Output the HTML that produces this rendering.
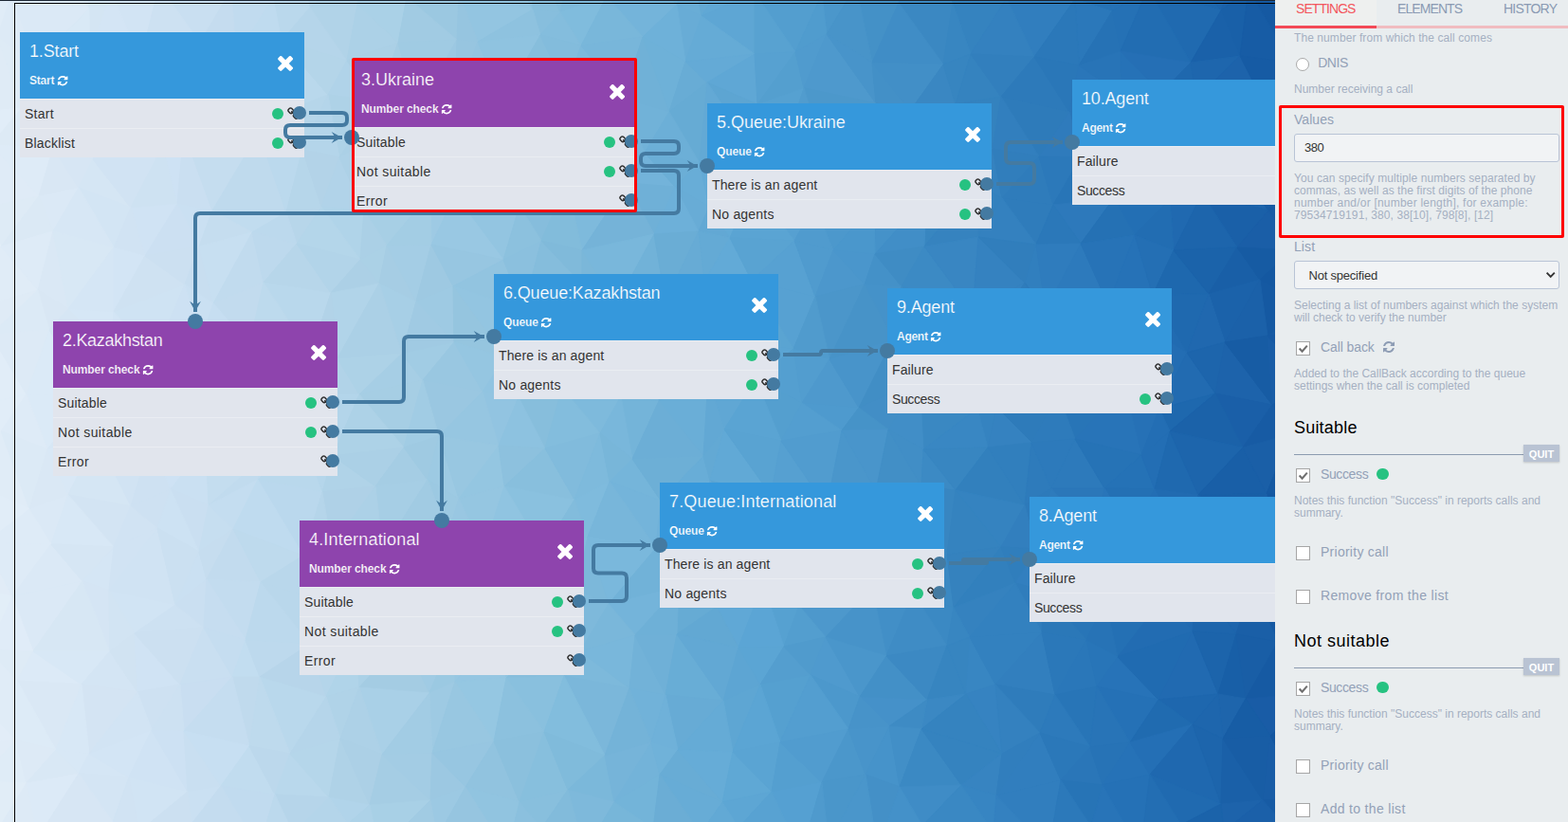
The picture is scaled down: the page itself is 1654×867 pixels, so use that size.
<!DOCTYPE html>
<html lang="en"><head><meta charset="utf-8"><title>Scenario editor</title>
<style>
*{box-sizing:border-box}
html,body{margin:0;padding:0}
body{width:1654px;height:867px;overflow:hidden;position:relative;font-family:"Liberation Sans",sans-serif;
 background:linear-gradient(90deg,#e0ecf7 0px,#cbe0f2 200px,#aad0e6 400px,#82bcdc 600px,#5aa4d3 800px,#3987c2 1000px,#2470b5 1200px,#175ba4 1345px,#175ba4 100%);}
.t{position:absolute;white-space:nowrap;line-height:1}
.ic{position:absolute;display:block}
#top{position:absolute;left:0;top:0;width:1654px;height:1px;background:#1c2633}
#frame{position:absolute;left:15px;top:3px;width:1654px;height:867px;border-left:1px solid #000;border-top:1px solid #000}
.node{position:absolute;width:300px}
.hd{position:relative;height:70px}
.sub{font-size:12px;font-weight:700;color:#fff}
.rf{display:inline-block;vertical-align:-2px;margin-left:2.6px}
.row{position:relative;height:31px;background:#e1e5ed;border-top:1px solid #eaedf2}
.gd{position:absolute;right:21.6px;top:9px;width:12px;height:12px;border-radius:50%;background:#26c281}
.cv{position:absolute;left:0;top:0}
.redbox{position:absolute;border:3px solid #fe0000;border-radius:2px}
#panel{position:absolute;left:1345px;top:0;width:309px;height:867px;background:#e9edef}
.tab.on{position:absolute;top:0;height:27px;background:#eef0ef}
.tabline{position:absolute;left:0;top:27px;width:100%;height:3px;background:#f0bcc0}
.tabline.on{width:107px;background:#f34a57}
.radio{position:absolute;width:14px;height:14px;border-radius:50%;background:#fff;border:1px solid #a9a9a9}
.inp{position:absolute;width:280px;border:1px solid #b9c4d6;border-radius:3px;background:#f1f3f5}
.cb{position:absolute;width:15px;height:15px;background:#fff;border:1px solid #a6a6a6}
.hr{position:absolute;left:20px;width:243px;height:1px;background:#8c9bb0}
.quit{position:absolute;left:262px;width:38px;height:18px;background:#b9c3d3;color:#fff;font-size:11px;font-weight:700;line-height:20px;text-align:center;box-shadow:0 1px 2px rgba(0,0,0,.18)}
</style></head><body>
<svg class="cv" width="1654" height="867" viewBox="0 0 1654 867"><polygon points="-54,-50 14,-53 -17,-8" fill="#e1ecf7" stroke="#e1ecf7" stroke-width="1"/><polygon points="14,-53 12,-6 -17,-8" fill="#e0ecf7" stroke="#e0ecf7" stroke-width="1"/><polygon points="14,-53 52,-49 12,-6" fill="#ddeaf6" stroke="#ddeaf6" stroke-width="1"/><polygon points="52,-49 94,9 12,-6" fill="#dbe9f6" stroke="#dbe9f6" stroke-width="1"/><polygon points="52,-49 93,-52 94,9" fill="#d8e7f5" stroke="#d8e7f5" stroke-width="1"/><polygon points="93,-52 117,-9 94,9" fill="#d4e5f3" stroke="#d4e5f3" stroke-width="1"/><polygon points="93,-52 160,-42 117,-9" fill="#d3e5f4" stroke="#d3e5f4" stroke-width="1"/><polygon points="160,-42 168,-15 117,-9" fill="#d1e4f4" stroke="#d1e4f4" stroke-width="1"/><polygon points="160,-42 194,-59 168,-15" fill="#cee2f3" stroke="#cee2f3" stroke-width="1"/><polygon points="194,-59 244,-11 168,-15" fill="#cce1f3" stroke="#cce1f3" stroke-width="1"/><polygon points="194,-59 246,-41 244,-11" fill="#c5ddef" stroke="#c5ddef" stroke-width="1"/><polygon points="246,-41 288,-2 244,-11" fill="#c0daed" stroke="#c0daed" stroke-width="1"/><polygon points="246,-41 319,-68 288,-2" fill="#bcd8eb" stroke="#bcd8eb" stroke-width="1"/><polygon points="319,-68 327,8 288,-2" fill="#b9d7eb" stroke="#b9d7eb" stroke-width="1"/><polygon points="319,-68 380,-36 327,8" fill="#b3d4e9" stroke="#b3d4e9" stroke-width="1"/><polygon points="380,-36 377,5 327,8" fill="#b0d3e8" stroke="#b0d3e8" stroke-width="1"/><polygon points="380,-36 421,-48 377,5" fill="#aad0e6" stroke="#aad0e6" stroke-width="1"/><polygon points="421,-48 429,-3 377,5" fill="#a9d0e7" stroke="#a9d0e7" stroke-width="1"/><polygon points="421,-48 456,-68 429,-3" fill="#a1cbe3" stroke="#a1cbe3" stroke-width="1"/><polygon points="456,-68 484,-8 429,-3" fill="#a0cce5" stroke="#a0cce5" stroke-width="1"/><polygon points="456,-68 521,-67 484,-8" fill="#99c8e2" stroke="#99c8e2" stroke-width="1"/><polygon points="521,-67 562,10 484,-8" fill="#92c4e0" stroke="#92c4e0" stroke-width="1"/><polygon points="521,-67 561,-61 562,10" fill="#8dc2e0" stroke="#8dc2e0" stroke-width="1"/><polygon points="561,-61 591,13 562,10" fill="#87bedc" stroke="#87bedc" stroke-width="1"/><polygon points="561,-61 608,-53 591,13" fill="#83bcdb" stroke="#83bcdb" stroke-width="1"/><polygon points="608,-53 640,-4 591,13" fill="#7fbadb" stroke="#7fbadb" stroke-width="1"/><polygon points="608,-53 674,-40 640,-4" fill="#78b5d8" stroke="#78b5d8" stroke-width="1"/><polygon points="674,-40 714,5 640,-4" fill="#72b2d8" stroke="#72b2d8" stroke-width="1"/><polygon points="674,-40 729,-47 714,5" fill="#6db0d8" stroke="#6db0d8" stroke-width="1"/><polygon points="729,-47 740,17 714,5" fill="#69add6" stroke="#69add6" stroke-width="1"/><polygon points="729,-47 780,-46 740,17" fill="#63a9d4" stroke="#63a9d4" stroke-width="1"/><polygon points="780,-46 796,-8 740,17" fill="#60a8d5" stroke="#60a8d5" stroke-width="1"/><polygon points="780,-46 831,-60 796,-8" fill="#58a2d1" stroke="#58a2d1" stroke-width="1"/><polygon points="831,-60 867,-6 796,-8" fill="#56a1d2" stroke="#56a1d2" stroke-width="1"/><polygon points="831,-60 901,-35 867,-6" fill="#4e99cc" stroke="#4e99cc" stroke-width="1"/><polygon points="901,-35 903,-15 867,-6" fill="#4a96ca" stroke="#4a96ca" stroke-width="1"/><polygon points="901,-35 948,-45 903,-15" fill="#4591c7" stroke="#4591c7" stroke-width="1"/><polygon points="948,-45 948,3 903,-15" fill="#4592c9" stroke="#4592c9" stroke-width="1"/><polygon points="948,-45 982,-61 948,3" fill="#418ec7" stroke="#418ec7" stroke-width="1"/><polygon points="982,-61 1005,3 948,3" fill="#3e8bc5" stroke="#3e8bc5" stroke-width="1"/><polygon points="982,-61 1033,-67 1005,3" fill="#3684bf" stroke="#3684bf" stroke-width="1"/><polygon points="1033,-67 1062,-2 1005,3" fill="#3583bf" stroke="#3583bf" stroke-width="1"/><polygon points="1033,-67 1101,-55 1062,-2" fill="#317fbd" stroke="#317fbd" stroke-width="1"/><polygon points="1101,-55 1134,-1 1062,-2" fill="#2d7aba" stroke="#2d7aba" stroke-width="1"/><polygon points="1101,-55 1156,-56 1134,-1" fill="#2e7abc" stroke="#2e7abc" stroke-width="1"/><polygon points="1156,-56 1173,12 1134,-1" fill="#2673b6" stroke="#2673b6" stroke-width="1"/><polygon points="1156,-56 1212,-40 1173,12" fill="#2672b6" stroke="#2672b6" stroke-width="1"/><polygon points="1212,-40 1211,-12 1173,12" fill="#2672b6" stroke="#2672b6" stroke-width="1"/><polygon points="1212,-40 1231,-62 1211,-12" fill="#2570b5" stroke="#2570b5" stroke-width="1"/><polygon points="1231,-62 1288,11 1211,-12" fill="#1e68ae" stroke="#1e68ae" stroke-width="1"/><polygon points="1231,-62 1314,-53 1288,11" fill="#1d65ac" stroke="#1d65ac" stroke-width="1"/><polygon points="1314,-53 1317,-11 1288,11" fill="#1c62aa" stroke="#1c62aa" stroke-width="1"/><polygon points="1314,-53 1368,-55 1317,-11" fill="#165aa3" stroke="#165aa3" stroke-width="1"/><polygon points="1368,-55 1386,15 1317,-11" fill="#1559a2" stroke="#1559a2" stroke-width="1"/><polygon points="1368,-55 1389,-48 1386,15" fill="#185ba4" stroke="#185ba4" stroke-width="1"/><polygon points="1389,-48 1420,15 1386,15" fill="#13569f" stroke="#13569f" stroke-width="1"/><polygon points="-17,-8 12,-6 -3,39" fill="#e0ecf7" stroke="#e0ecf7" stroke-width="1"/><polygon points="-17,-8 -3,39 -39,56" fill="#e1ecf7" stroke="#e1ecf7" stroke-width="1"/><polygon points="12,-6 94,9 36,68" fill="#dbe9f6" stroke="#dbe9f6" stroke-width="1"/><polygon points="12,-6 36,68 -3,39" fill="#ddeaf6" stroke="#ddeaf6" stroke-width="1"/><polygon points="94,9 117,-9 95,59" fill="#d4e5f3" stroke="#d4e5f3" stroke-width="1"/><polygon points="94,9 95,59 36,68" fill="#d9e9f6" stroke="#d9e9f6" stroke-width="1"/><polygon points="117,-9 168,-15 148,63" fill="#d2e4f4" stroke="#d2e4f4" stroke-width="1"/><polygon points="117,-9 148,63 95,59" fill="#d4e5f5" stroke="#d4e5f5" stroke-width="1"/><polygon points="168,-15 244,-11 211,45" fill="#c9dff1" stroke="#c9dff1" stroke-width="1"/><polygon points="168,-15 211,45 148,63" fill="#cde1f2" stroke="#cde1f2" stroke-width="1"/><polygon points="244,-11 288,-2 249,59" fill="#c1dbef" stroke="#c1dbef" stroke-width="1"/><polygon points="244,-11 249,59 211,45" fill="#c5dcef" stroke="#c5dcef" stroke-width="1"/><polygon points="288,-2 327,8 297,43" fill="#bad8ec" stroke="#bad8ec" stroke-width="1"/><polygon points="288,-2 297,43 249,59" fill="#bfdbef" stroke="#bfdbef" stroke-width="1"/><polygon points="327,8 377,5 366,64" fill="#b1d3e8" stroke="#b1d3e8" stroke-width="1"/><polygon points="327,8 366,64 297,43" fill="#b5d5ea" stroke="#b5d5ea" stroke-width="1"/><polygon points="377,5 429,-3 420,45" fill="#aad1e7" stroke="#aad1e7" stroke-width="1"/><polygon points="377,5 420,45 366,64" fill="#acd1e7" stroke="#acd1e7" stroke-width="1"/><polygon points="429,-3 484,-8 482,42" fill="#9bc8e1" stroke="#9bc8e1" stroke-width="1"/><polygon points="429,-3 482,42 420,45" fill="#a1cbe3" stroke="#a1cbe3" stroke-width="1"/><polygon points="484,-8 562,10 504,44" fill="#93c5e1" stroke="#93c5e1" stroke-width="1"/><polygon points="484,-8 504,44 482,42" fill="#96c5e0" stroke="#96c5e0" stroke-width="1"/><polygon points="562,10 591,13 570,37" fill="#87bedd" stroke="#87bedd" stroke-width="1"/><polygon points="562,10 570,37 504,44" fill="#8ec2df" stroke="#8ec2df" stroke-width="1"/><polygon points="591,13 640,-4 613,48" fill="#80bcdd" stroke="#80bcdd" stroke-width="1"/><polygon points="591,13 613,48 570,37" fill="#84bddd" stroke="#84bddd" stroke-width="1"/><polygon points="640,-4 714,5 678,39" fill="#74b4da" stroke="#74b4da" stroke-width="1"/><polygon points="640,-4 678,39 613,48" fill="#79b7da" stroke="#79b7da" stroke-width="1"/><polygon points="714,5 740,17 723,65" fill="#68acd6" stroke="#68acd6" stroke-width="1"/><polygon points="714,5 723,65 678,39" fill="#6eb1d9" stroke="#6eb1d9" stroke-width="1"/><polygon points="740,17 796,-8 796,57" fill="#5ea6d4" stroke="#5ea6d4" stroke-width="1"/><polygon points="740,17 796,57 723,65" fill="#65abd6" stroke="#65abd6" stroke-width="1"/><polygon points="796,-8 867,-6 839,55" fill="#539ecf" stroke="#539ecf" stroke-width="1"/><polygon points="796,-8 839,55 796,57" fill="#58a2d1" stroke="#58a2d1" stroke-width="1"/><polygon points="867,-6 903,-15 872,36" fill="#4b97cb" stroke="#4b97cb" stroke-width="1"/><polygon points="867,-6 872,36 839,55" fill="#509cce" stroke="#509cce" stroke-width="1"/><polygon points="903,-15 948,3 920,66" fill="#4491c7" stroke="#4491c7" stroke-width="1"/><polygon points="903,-15 920,66 872,36" fill="#4894c9" stroke="#4894c9" stroke-width="1"/><polygon points="948,3 1005,3 995,68" fill="#3b88c2" stroke="#3b88c2" stroke-width="1"/><polygon points="948,3 995,68 920,66" fill="#408dc6" stroke="#408dc6" stroke-width="1"/><polygon points="1005,3 1062,-2 1024,57" fill="#3583bf" stroke="#3583bf" stroke-width="1"/><polygon points="1005,3 1024,57 995,68" fill="#3886c1" stroke="#3886c1" stroke-width="1"/><polygon points="1062,-2 1134,-1 1091,60" fill="#317ebe" stroke="#317ebe" stroke-width="1"/><polygon points="1062,-2 1091,60 1024,57" fill="#3481bf" stroke="#3481bf" stroke-width="1"/><polygon points="1134,-1 1173,12 1138,69" fill="#2b78ba" stroke="#2b78ba" stroke-width="1"/><polygon points="1134,-1 1138,69 1091,60" fill="#2b78b9" stroke="#2b78b9" stroke-width="1"/><polygon points="1173,12 1211,-12 1182,54" fill="#2571b5" stroke="#2571b5" stroke-width="1"/><polygon points="1173,12 1182,54 1138,69" fill="#2672b5" stroke="#2672b5" stroke-width="1"/><polygon points="1211,-12 1288,11 1256,66" fill="#206ab0" stroke="#206ab0" stroke-width="1"/><polygon points="1211,-12 1256,66 1182,54" fill="#226db2" stroke="#226db2" stroke-width="1"/><polygon points="1288,11 1317,-11 1308,59" fill="#1960a8" stroke="#1960a8" stroke-width="1"/><polygon points="1288,11 1308,59 1256,66" fill="#1a61a9" stroke="#1a61a9" stroke-width="1"/><polygon points="1317,-11 1386,15 1362,66" fill="#1559a2" stroke="#1559a2" stroke-width="1"/><polygon points="1317,-11 1362,66 1308,59" fill="#175ca5" stroke="#175ca5" stroke-width="1"/><polygon points="1386,15 1420,15 1399,58" fill="#1557a0" stroke="#1557a0" stroke-width="1"/><polygon points="1386,15 1399,58 1362,66" fill="#185ba4" stroke="#185ba4" stroke-width="1"/><polygon points="-39,56 -3,39 -12,117" fill="#e2edf8" stroke="#e2edf8" stroke-width="1"/><polygon points="-3,39 23,114 -12,117" fill="#dfebf6" stroke="#dfebf6" stroke-width="1"/><polygon points="-3,39 36,68 23,114" fill="#deebf6" stroke="#deebf6" stroke-width="1"/><polygon points="36,68 90,106 23,114" fill="#dae8f5" stroke="#dae8f5" stroke-width="1"/><polygon points="36,68 95,59 90,106" fill="#d9e9f6" stroke="#d9e9f6" stroke-width="1"/><polygon points="95,59 134,100 90,106" fill="#d4e5f4" stroke="#d4e5f4" stroke-width="1"/><polygon points="95,59 148,63 134,100" fill="#d4e5f5" stroke="#d4e5f5" stroke-width="1"/><polygon points="148,63 185,108 134,100" fill="#d0e3f4" stroke="#d0e3f4" stroke-width="1"/><polygon points="148,63 211,45 185,108" fill="#cee2f4" stroke="#cee2f4" stroke-width="1"/><polygon points="211,45 220,109 185,108" fill="#c9def0" stroke="#c9def0" stroke-width="1"/><polygon points="211,45 249,59 220,109" fill="#c6ddf0" stroke="#c6ddf0" stroke-width="1"/><polygon points="249,59 303,117 220,109" fill="#c1dbee" stroke="#c1dbee" stroke-width="1"/><polygon points="249,59 297,43 303,117" fill="#bcd8ec" stroke="#bcd8ec" stroke-width="1"/><polygon points="297,43 346,100 303,117" fill="#b9d8ec" stroke="#b9d8ec" stroke-width="1"/><polygon points="297,43 366,64 346,100" fill="#b4d5e9" stroke="#b4d5e9" stroke-width="1"/><polygon points="366,64 398,107 346,100" fill="#b0d3e9" stroke="#b0d3e9" stroke-width="1"/><polygon points="366,64 420,45 398,107" fill="#abd0e6" stroke="#abd0e6" stroke-width="1"/><polygon points="420,45 440,116 398,107" fill="#a5cde4" stroke="#a5cde4" stroke-width="1"/><polygon points="420,45 482,42 440,116" fill="#a0cbe3" stroke="#a0cbe3" stroke-width="1"/><polygon points="482,42 480,113 440,116" fill="#9cc8e2" stroke="#9cc8e2" stroke-width="1"/><polygon points="482,42 504,44 480,113" fill="#97c5e0" stroke="#97c5e0" stroke-width="1"/><polygon points="504,44 530,107 480,113" fill="#94c4e0" stroke="#94c4e0" stroke-width="1"/><polygon points="504,44 570,37 530,107" fill="#8fc3e0" stroke="#8fc3e0" stroke-width="1"/><polygon points="570,37 597,95 530,107" fill="#87bedc" stroke="#87bedc" stroke-width="1"/><polygon points="570,37 613,48 597,95" fill="#83bcdc" stroke="#83bcdc" stroke-width="1"/><polygon points="613,48 657,104 597,95" fill="#7db9db" stroke="#7db9db" stroke-width="1"/><polygon points="613,48 678,39 657,104" fill="#78b6da" stroke="#78b6da" stroke-width="1"/><polygon points="678,39 706,118 657,104" fill="#70b1d7" stroke="#70b1d7" stroke-width="1"/><polygon points="678,39 723,65 706,118" fill="#6eb1d8" stroke="#6eb1d8" stroke-width="1"/><polygon points="723,65 746,87 706,118" fill="#68acd5" stroke="#68acd5" stroke-width="1"/><polygon points="723,65 796,57 746,87" fill="#64aad6" stroke="#64aad6" stroke-width="1"/><polygon points="796,57 799,110 746,87" fill="#5fa7d5" stroke="#5fa7d5" stroke-width="1"/><polygon points="796,57 839,55 799,110" fill="#57a1d1" stroke="#57a1d1" stroke-width="1"/><polygon points="839,55 848,93 799,110" fill="#549fcf" stroke="#549fcf" stroke-width="1"/><polygon points="839,55 872,36 848,93" fill="#509bce" stroke="#509bce" stroke-width="1"/><polygon points="872,36 924,109 848,93" fill="#4e99cd" stroke="#4e99cd" stroke-width="1"/><polygon points="872,36 920,66 924,109" fill="#4894ca" stroke="#4894ca" stroke-width="1"/><polygon points="920,66 960,117 924,109" fill="#4390c7" stroke="#4390c7" stroke-width="1"/><polygon points="920,66 995,68 960,117" fill="#428fc7" stroke="#428fc7" stroke-width="1"/><polygon points="995,68 1008,110 960,117" fill="#3a87c2" stroke="#3a87c2" stroke-width="1"/><polygon points="995,68 1024,57 1008,110" fill="#3785c0" stroke="#3785c0" stroke-width="1"/><polygon points="1024,57 1056,102 1008,110" fill="#3583bf" stroke="#3583bf" stroke-width="1"/><polygon points="1024,57 1091,60 1056,102" fill="#327fbd" stroke="#327fbd" stroke-width="1"/><polygon points="1091,60 1128,118 1056,102" fill="#2d7aba" stroke="#2d7aba" stroke-width="1"/><polygon points="1091,60 1138,69 1128,118" fill="#2a77b8" stroke="#2a77b8" stroke-width="1"/><polygon points="1138,69 1183,100 1128,118" fill="#2a76b9" stroke="#2a76b9" stroke-width="1"/><polygon points="1138,69 1182,54 1183,100" fill="#2874b7" stroke="#2874b7" stroke-width="1"/><polygon points="1182,54 1225,98 1183,100" fill="#2672b7" stroke="#2672b7" stroke-width="1"/><polygon points="1182,54 1256,66 1225,98" fill="#256fb5" stroke="#256fb5" stroke-width="1"/><polygon points="1256,66 1262,104 1225,98" fill="#1f68ae" stroke="#1f68ae" stroke-width="1"/><polygon points="1256,66 1308,59 1262,104" fill="#1e66ad" stroke="#1e66ad" stroke-width="1"/><polygon points="1308,59 1337,116 1262,104" fill="#1d63ab" stroke="#1d63ab" stroke-width="1"/><polygon points="1308,59 1362,66 1337,116" fill="#165ba4" stroke="#165ba4" stroke-width="1"/><polygon points="1362,66 1385,119 1337,116" fill="#185ba4" stroke="#185ba4" stroke-width="1"/><polygon points="1362,66 1399,58 1385,119" fill="#175aa3" stroke="#175aa3" stroke-width="1"/><polygon points="1399,58 1422,93 1385,119" fill="#185aa4" stroke="#185aa4" stroke-width="1"/><polygon points="-12,117 23,114 -10,153" fill="#e1edf8" stroke="#e1edf8" stroke-width="1"/><polygon points="-12,117 -10,153 -54,148" fill="#e1ecf7" stroke="#e1ecf7" stroke-width="1"/><polygon points="23,114 90,106 56,156" fill="#dae9f6" stroke="#dae9f6" stroke-width="1"/><polygon points="23,114 56,156 -10,153" fill="#ddeaf5" stroke="#ddeaf5" stroke-width="1"/><polygon points="90,106 134,100 98,168" fill="#d5e5f4" stroke="#d5e5f4" stroke-width="1"/><polygon points="90,106 98,168 56,156" fill="#d7e7f5" stroke="#d7e7f5" stroke-width="1"/><polygon points="134,100 185,108 172,154" fill="#cee1f2" stroke="#cee1f2" stroke-width="1"/><polygon points="134,100 172,154 98,168" fill="#d2e4f3" stroke="#d2e4f3" stroke-width="1"/><polygon points="185,108 220,109 194,140" fill="#cbe0f2" stroke="#cbe0f2" stroke-width="1"/><polygon points="185,108 194,140 172,154" fill="#cde1f2" stroke="#cde1f2" stroke-width="1"/><polygon points="220,109 303,117 273,140" fill="#c0daed" stroke="#c0daed" stroke-width="1"/><polygon points="220,109 273,140 194,140" fill="#c5ddef" stroke="#c5ddef" stroke-width="1"/><polygon points="303,117 346,100 319,158" fill="#b6d6ea" stroke="#b6d6ea" stroke-width="1"/><polygon points="303,117 319,158 273,140" fill="#bbd8ec" stroke="#bbd8ec" stroke-width="1"/><polygon points="346,100 398,107 358,166" fill="#aed2e7" stroke="#aed2e7" stroke-width="1"/><polygon points="346,100 358,166 319,158" fill="#b4d5ea" stroke="#b4d5ea" stroke-width="1"/><polygon points="398,107 440,116 400,144" fill="#a7cee4" stroke="#a7cee4" stroke-width="1"/><polygon points="398,107 400,144 358,166" fill="#abd0e6" stroke="#abd0e6" stroke-width="1"/><polygon points="440,116 480,113 466,140" fill="#9dc9e2" stroke="#9dc9e2" stroke-width="1"/><polygon points="440,116 466,140 400,144" fill="#a3cce4" stroke="#a3cce4" stroke-width="1"/><polygon points="480,113 530,107 531,147" fill="#92c3df" stroke="#92c3df" stroke-width="1"/><polygon points="480,113 531,147 466,140" fill="#98c7e2" stroke="#98c7e2" stroke-width="1"/><polygon points="530,107 597,95 560,141" fill="#8ac1df" stroke="#8ac1df" stroke-width="1"/><polygon points="530,107 560,141 531,147" fill="#8ec2df" stroke="#8ec2df" stroke-width="1"/><polygon points="597,95 657,104 628,154" fill="#7db9dc" stroke="#7db9dc" stroke-width="1"/><polygon points="597,95 628,154 560,141" fill="#81bbda" stroke="#81bbda" stroke-width="1"/><polygon points="657,104 706,118 680,161" fill="#71b2d8" stroke="#71b2d8" stroke-width="1"/><polygon points="657,104 680,161 628,154" fill="#76b5d9" stroke="#76b5d9" stroke-width="1"/><polygon points="706,118 746,87 738,172" fill="#66abd4" stroke="#66abd4" stroke-width="1"/><polygon points="706,118 738,172 680,161" fill="#6cafd7" stroke="#6cafd7" stroke-width="1"/><polygon points="746,87 799,110 786,146" fill="#5da5d2" stroke="#5da5d2" stroke-width="1"/><polygon points="746,87 786,146 738,172" fill="#63a9d5" stroke="#63a9d5" stroke-width="1"/><polygon points="799,110 848,93 831,145" fill="#56a1d1" stroke="#56a1d1" stroke-width="1"/><polygon points="799,110 831,145 786,146" fill="#59a3d2" stroke="#59a3d2" stroke-width="1"/><polygon points="848,93 924,109 867,155" fill="#4c98cb" stroke="#4c98cb" stroke-width="1"/><polygon points="848,93 867,155 831,145" fill="#519cce" stroke="#519cce" stroke-width="1"/><polygon points="924,109 960,117 943,145" fill="#408dc5" stroke="#408dc5" stroke-width="1"/><polygon points="924,109 943,145 867,155" fill="#4793c9" stroke="#4793c9" stroke-width="1"/><polygon points="960,117 1008,110 980,151" fill="#3e8bc5" stroke="#3e8bc5" stroke-width="1"/><polygon points="960,117 980,151 943,145" fill="#408dc6" stroke="#408dc6" stroke-width="1"/><polygon points="1008,110 1056,102 1047,157" fill="#3482be" stroke="#3482be" stroke-width="1"/><polygon points="1008,110 1047,157 980,151" fill="#3986c2" stroke="#3986c2" stroke-width="1"/><polygon points="1056,102 1128,118 1096,165" fill="#2e7bba" stroke="#2e7bba" stroke-width="1"/><polygon points="1056,102 1096,165 1047,157" fill="#327fbe" stroke="#327fbe" stroke-width="1"/><polygon points="1128,118 1183,100 1140,166" fill="#2a76b9" stroke="#2a76b9" stroke-width="1"/><polygon points="1128,118 1140,166 1096,165" fill="#2f7bbc" stroke="#2f7bbc" stroke-width="1"/><polygon points="1183,100 1225,98 1210,142" fill="#236eb4" stroke="#236eb4" stroke-width="1"/><polygon points="1183,100 1210,142 1140,166" fill="#2773b7" stroke="#2773b7" stroke-width="1"/><polygon points="1225,98 1262,104 1263,164" fill="#226bb2" stroke="#226bb2" stroke-width="1"/><polygon points="1225,98 1263,164 1210,142" fill="#236db3" stroke="#236db3" stroke-width="1"/><polygon points="1262,104 1337,116 1287,154" fill="#1c63ab" stroke="#1c63ab" stroke-width="1"/><polygon points="1262,104 1287,154 1263,164" fill="#1e66ad" stroke="#1e66ad" stroke-width="1"/><polygon points="1337,116 1385,119 1356,170" fill="#165aa3" stroke="#165aa3" stroke-width="1"/><polygon points="1337,116 1356,170 1287,154" fill="#185da6" stroke="#185da6" stroke-width="1"/><polygon points="1385,119 1422,93 1400,158" fill="#1456a0" stroke="#1456a0" stroke-width="1"/><polygon points="1385,119 1400,158 1356,170" fill="#185ba4" stroke="#185ba4" stroke-width="1"/><polygon points="-54,148 -10,153 -13,218" fill="#e2eef8" stroke="#e2eef8" stroke-width="1"/><polygon points="-10,153 41,207 -13,218" fill="#dfebf7" stroke="#dfebf7" stroke-width="1"/><polygon points="-10,153 56,156 41,207" fill="#deebf7" stroke="#deebf7" stroke-width="1"/><polygon points="56,156 83,198 41,207" fill="#d9e7f4" stroke="#d9e7f4" stroke-width="1"/><polygon points="56,156 98,168 83,198" fill="#d7e6f4" stroke="#d7e6f4" stroke-width="1"/><polygon points="98,168 138,219 83,198" fill="#d5e6f4" stroke="#d5e6f4" stroke-width="1"/><polygon points="98,168 172,154 138,219" fill="#d1e3f3" stroke="#d1e3f3" stroke-width="1"/><polygon points="172,154 187,215 138,219" fill="#cee2f2" stroke="#cee2f2" stroke-width="1"/><polygon points="172,154 194,140 187,215" fill="#cee2f4" stroke="#cee2f4" stroke-width="1"/><polygon points="194,140 224,222 187,215" fill="#cadff1" stroke="#cadff1" stroke-width="1"/><polygon points="194,140 273,140 224,222" fill="#c5ddef" stroke="#c5ddef" stroke-width="1"/><polygon points="273,140 302,224 224,222" fill="#bfdaed" stroke="#bfdaed" stroke-width="1"/><polygon points="273,140 319,158 302,224" fill="#bbd9ed" stroke="#bbd9ed" stroke-width="1"/><polygon points="319,158 339,218 302,224" fill="#b6d6ea" stroke="#b6d6ea" stroke-width="1"/><polygon points="319,158 358,166 339,218" fill="#b3d3e8" stroke="#b3d3e8" stroke-width="1"/><polygon points="358,166 384,222 339,218" fill="#b1d3e9" stroke="#b1d3e9" stroke-width="1"/><polygon points="358,166 400,144 384,222" fill="#add1e7" stroke="#add1e7" stroke-width="1"/><polygon points="400,144 454,203 384,222" fill="#a7cee4" stroke="#a7cee4" stroke-width="1"/><polygon points="400,144 466,140 454,203" fill="#a2cce4" stroke="#a2cce4" stroke-width="1"/><polygon points="466,140 480,206 454,203" fill="#9dcae3" stroke="#9dcae3" stroke-width="1"/><polygon points="466,140 531,147 480,206" fill="#98c7e2" stroke="#98c7e2" stroke-width="1"/><polygon points="531,147 548,217 480,206" fill="#93c4e0" stroke="#93c4e0" stroke-width="1"/><polygon points="531,147 560,141 548,217" fill="#8dc2df" stroke="#8dc2df" stroke-width="1"/><polygon points="560,141 598,192 548,217" fill="#8ac0df" stroke="#8ac0df" stroke-width="1"/><polygon points="560,141 628,154 598,192" fill="#85bede" stroke="#85bede" stroke-width="1"/><polygon points="628,154 661,193 598,192" fill="#7cb8da" stroke="#7cb8da" stroke-width="1"/><polygon points="628,154 680,161 661,193" fill="#76b5d9" stroke="#76b5d9" stroke-width="1"/><polygon points="680,161 712,197 661,193" fill="#73b3da" stroke="#73b3da" stroke-width="1"/><polygon points="680,161 738,172 712,197" fill="#6baed6" stroke="#6baed6" stroke-width="1"/><polygon points="738,172 748,218 712,197" fill="#68add7" stroke="#68add7" stroke-width="1"/><polygon points="738,172 786,146 748,218" fill="#63aad6" stroke="#63aad6" stroke-width="1"/><polygon points="786,146 794,196 748,218" fill="#60a8d5" stroke="#60a8d5" stroke-width="1"/><polygon points="786,146 831,145 794,196" fill="#5ba5d5" stroke="#5ba5d5" stroke-width="1"/><polygon points="831,145 859,216 794,196" fill="#57a1d2" stroke="#57a1d2" stroke-width="1"/><polygon points="831,145 867,155 859,216" fill="#509bcd" stroke="#509bcd" stroke-width="1"/><polygon points="867,155 922,214 859,216" fill="#4d99cd" stroke="#4d99cd" stroke-width="1"/><polygon points="867,155 943,145 922,214" fill="#4894ca" stroke="#4894ca" stroke-width="1"/><polygon points="943,145 977,208 922,214" fill="#428fc7" stroke="#428fc7" stroke-width="1"/><polygon points="943,145 980,151 977,208" fill="#3e8bc4" stroke="#3e8bc4" stroke-width="1"/><polygon points="980,151 1029,194 977,208" fill="#3987c1" stroke="#3987c1" stroke-width="1"/><polygon points="980,151 1047,157 1029,194" fill="#3886c2" stroke="#3886c2" stroke-width="1"/><polygon points="1047,157 1057,209 1029,194" fill="#3582bf" stroke="#3582bf" stroke-width="1"/><polygon points="1047,157 1096,165 1057,209" fill="#317ebc" stroke="#317ebc" stroke-width="1"/><polygon points="1096,165 1111,216 1057,209" fill="#2f7cbb" stroke="#2f7cbb" stroke-width="1"/><polygon points="1096,165 1140,166 1111,216" fill="#2c79ba" stroke="#2c79ba" stroke-width="1"/><polygon points="1140,166 1175,209 1111,216" fill="#2875b7" stroke="#2875b7" stroke-width="1"/><polygon points="1140,166 1210,142 1175,209" fill="#2773b7" stroke="#2773b7" stroke-width="1"/><polygon points="1210,142 1234,210 1175,209" fill="#216db2" stroke="#216db2" stroke-width="1"/><polygon points="1210,142 1263,164 1234,210" fill="#1e69ae" stroke="#1e69ae" stroke-width="1"/><polygon points="1263,164 1268,204 1234,210" fill="#1d66ac" stroke="#1d66ac" stroke-width="1"/><polygon points="1263,164 1287,154 1268,204" fill="#1b63aa" stroke="#1b63aa" stroke-width="1"/><polygon points="1287,154 1338,222 1268,204" fill="#1c63ab" stroke="#1c63ab" stroke-width="1"/><polygon points="1287,154 1356,170 1338,222" fill="#165ba4" stroke="#165ba4" stroke-width="1"/><polygon points="1356,170 1368,220 1338,222" fill="#165aa3" stroke="#165aa3" stroke-width="1"/><polygon points="1356,170 1400,158 1368,220" fill="#185ba4" stroke="#185ba4" stroke-width="1"/><polygon points="1400,158 1446,209 1368,220" fill="#1557a1" stroke="#1557a1" stroke-width="1"/><polygon points="-13,218 41,207 1,260" fill="#deebf6" stroke="#deebf6" stroke-width="1"/><polygon points="-13,218 1,260 -50,250" fill="#e2eef8" stroke="#e2eef8" stroke-width="1"/><polygon points="41,207 83,198 56,244" fill="#dbe9f6" stroke="#dbe9f6" stroke-width="1"/><polygon points="41,207 56,244 1,260" fill="#dbe9f5" stroke="#dbe9f5" stroke-width="1"/><polygon points="83,198 138,219 120,261" fill="#d3e5f4" stroke="#d3e5f4" stroke-width="1"/><polygon points="83,198 120,261 56,244" fill="#d7e7f5" stroke="#d7e7f5" stroke-width="1"/><polygon points="138,219 187,215 153,270" fill="#d0e3f4" stroke="#d0e3f4" stroke-width="1"/><polygon points="138,219 153,270 120,261" fill="#d1e3f3" stroke="#d1e3f3" stroke-width="1"/><polygon points="187,215 224,222 210,260" fill="#cae0f2" stroke="#cae0f2" stroke-width="1"/><polygon points="187,215 210,260 153,270" fill="#cce0f2" stroke="#cce0f2" stroke-width="1"/><polygon points="224,222 302,224 266,245" fill="#c1dcef" stroke="#c1dcef" stroke-width="1"/><polygon points="224,222 266,245 210,260" fill="#c5ddef" stroke="#c5ddef" stroke-width="1"/><polygon points="302,224 339,218 313,257" fill="#b7d6ea" stroke="#b7d6ea" stroke-width="1"/><polygon points="302,224 313,257 266,245" fill="#bcd9ed" stroke="#bcd9ed" stroke-width="1"/><polygon points="339,218 384,222 380,274" fill="#b0d4e9" stroke="#b0d4e9" stroke-width="1"/><polygon points="339,218 380,274 313,257" fill="#b4d6ea" stroke="#b4d6ea" stroke-width="1"/><polygon points="384,222 454,203 408,259" fill="#a7cfe5" stroke="#a7cfe5" stroke-width="1"/><polygon points="384,222 408,259 380,274" fill="#abd0e6" stroke="#abd0e6" stroke-width="1"/><polygon points="454,203 480,206 455,258" fill="#9ecae4" stroke="#9ecae4" stroke-width="1"/><polygon points="454,203 455,258 408,259" fill="#a3cde4" stroke="#a3cde4" stroke-width="1"/><polygon points="480,206 548,217 531,274" fill="#93c5e1" stroke="#93c5e1" stroke-width="1"/><polygon points="480,206 531,274 455,258" fill="#99c8e3" stroke="#99c8e3" stroke-width="1"/><polygon points="548,217 598,192 571,254" fill="#86bddc" stroke="#86bddc" stroke-width="1"/><polygon points="548,217 571,254 531,274" fill="#8cc1de" stroke="#8cc1de" stroke-width="1"/><polygon points="598,192 661,193 614,264" fill="#7ebadc" stroke="#7ebadc" stroke-width="1"/><polygon points="598,192 614,264 571,254" fill="#82bcdb" stroke="#82bcdb" stroke-width="1"/><polygon points="661,193 712,197 690,247" fill="#6fb0d7" stroke="#6fb0d7" stroke-width="1"/><polygon points="661,193 690,247 614,264" fill="#75b3d8" stroke="#75b3d8" stroke-width="1"/><polygon points="712,197 748,218 737,244" fill="#68acd6" stroke="#68acd6" stroke-width="1"/><polygon points="712,197 737,244 690,247" fill="#6db0d9" stroke="#6db0d9" stroke-width="1"/><polygon points="748,218 794,196 770,251" fill="#62aad6" stroke="#62aad6" stroke-width="1"/><polygon points="748,218 770,251 737,244" fill="#62a8d4" stroke="#62a8d4" stroke-width="1"/><polygon points="794,196 859,216 838,254" fill="#56a0d1" stroke="#56a0d1" stroke-width="1"/><polygon points="794,196 838,254 770,251" fill="#5aa4d3" stroke="#5aa4d3" stroke-width="1"/><polygon points="859,216 922,214 879,264" fill="#4c98cc" stroke="#4c98cc" stroke-width="1"/><polygon points="859,216 879,264 838,254" fill="#509bce" stroke="#509bce" stroke-width="1"/><polygon points="922,214 977,208 923,268" fill="#4592c9" stroke="#4592c9" stroke-width="1"/><polygon points="922,214 923,268 879,264" fill="#4a97cc" stroke="#4a97cc" stroke-width="1"/><polygon points="977,208 1029,194 975,260" fill="#3886c0" stroke="#3886c0" stroke-width="1"/><polygon points="977,208 975,260 923,268" fill="#418ec7" stroke="#418ec7" stroke-width="1"/><polygon points="1029,194 1057,209 1032,250" fill="#3381be" stroke="#3381be" stroke-width="1"/><polygon points="1029,194 1032,250 975,260" fill="#3683bf" stroke="#3683bf" stroke-width="1"/><polygon points="1057,209 1111,216 1093,258" fill="#2f7cbb" stroke="#2f7cbb" stroke-width="1"/><polygon points="1057,209 1093,258 1032,250" fill="#3481bf" stroke="#3481bf" stroke-width="1"/><polygon points="1111,216 1175,209 1140,257" fill="#2d79bb" stroke="#2d79bb" stroke-width="1"/><polygon points="1111,216 1140,257 1093,258" fill="#2b78b9" stroke="#2b78b9" stroke-width="1"/><polygon points="1175,209 1234,210 1197,248" fill="#236fb4" stroke="#236fb4" stroke-width="1"/><polygon points="1175,209 1197,248 1140,257" fill="#2571b4" stroke="#2571b4" stroke-width="1"/><polygon points="1234,210 1268,204 1238,264" fill="#2069b0" stroke="#2069b0" stroke-width="1"/><polygon points="1234,210 1238,264 1197,248" fill="#226db2" stroke="#226db2" stroke-width="1"/><polygon points="1268,204 1338,222 1305,261" fill="#1a60a8" stroke="#1a60a8" stroke-width="1"/><polygon points="1268,204 1305,261 1238,264" fill="#1d65ac" stroke="#1d65ac" stroke-width="1"/><polygon points="1338,222 1368,220 1364,264" fill="#185ca5" stroke="#185ca5" stroke-width="1"/><polygon points="1338,222 1364,264 1305,261" fill="#1a5ea7" stroke="#1a5ea7" stroke-width="1"/><polygon points="1368,220 1446,209 1416,251" fill="#14569f" stroke="#14569f" stroke-width="1"/><polygon points="1368,220 1416,251 1364,264" fill="#1558a1" stroke="#1558a1" stroke-width="1"/><polygon points="-50,250 1,260 -18,323" fill="#e2edf8" stroke="#e2edf8" stroke-width="1"/><polygon points="1,260 40,306 -18,323" fill="#e0ecf7" stroke="#e0ecf7" stroke-width="1"/><polygon points="1,260 56,244 40,306" fill="#deebf7" stroke="#deebf7" stroke-width="1"/><polygon points="56,244 72,326 40,306" fill="#dae8f5" stroke="#dae8f5" stroke-width="1"/><polygon points="56,244 120,261 72,326" fill="#d8e8f5" stroke="#d8e8f5" stroke-width="1"/><polygon points="120,261 120,329 72,326" fill="#d5e6f5" stroke="#d5e6f5" stroke-width="1"/><polygon points="120,261 153,270 120,329" fill="#d3e5f5" stroke="#d3e5f5" stroke-width="1"/><polygon points="153,270 195,300 120,329" fill="#cfe2f2" stroke="#cfe2f2" stroke-width="1"/><polygon points="153,270 210,260 195,300" fill="#cce0f1" stroke="#cce0f1" stroke-width="1"/><polygon points="210,260 225,320 195,300" fill="#c8def0" stroke="#c8def0" stroke-width="1"/><polygon points="210,260 266,245 225,320" fill="#c7dff1" stroke="#c7dff1" stroke-width="1"/><polygon points="266,245 278,298 225,320" fill="#c1dbee" stroke="#c1dbee" stroke-width="1"/><polygon points="266,245 313,257 278,298" fill="#bdd9ed" stroke="#bdd9ed" stroke-width="1"/><polygon points="313,257 349,309 278,298" fill="#b7d6ea" stroke="#b7d6ea" stroke-width="1"/><polygon points="313,257 380,274 349,309" fill="#b2d4e9" stroke="#b2d4e9" stroke-width="1"/><polygon points="380,274 400,299 349,309" fill="#acd0e6" stroke="#acd0e6" stroke-width="1"/><polygon points="380,274 408,259 400,299" fill="#abd1e6" stroke="#abd1e6" stroke-width="1"/><polygon points="408,259 439,318 400,299" fill="#a6cde4" stroke="#a6cde4" stroke-width="1"/><polygon points="408,259 455,258 439,318" fill="#a4cde5" stroke="#a4cde5" stroke-width="1"/><polygon points="455,258 478,302 439,318" fill="#9ec9e2" stroke="#9ec9e2" stroke-width="1"/><polygon points="455,258 531,274 478,302" fill="#97c6e1" stroke="#97c6e1" stroke-width="1"/><polygon points="531,274 552,326 478,302" fill="#92c4e0" stroke="#92c4e0" stroke-width="1"/><polygon points="531,274 571,254 552,326" fill="#8bc0de" stroke="#8bc0de" stroke-width="1"/><polygon points="571,254 614,299 552,326" fill="#85bddc" stroke="#85bddc" stroke-width="1"/><polygon points="571,254 614,264 614,299" fill="#80bada" stroke="#80bada" stroke-width="1"/><polygon points="614,264 650,321 614,299" fill="#7bb7d9" stroke="#7bb7d9" stroke-width="1"/><polygon points="614,264 690,247 650,321" fill="#79b7db" stroke="#79b7db" stroke-width="1"/><polygon points="690,247 702,318 650,321" fill="#71b2d8" stroke="#71b2d8" stroke-width="1"/><polygon points="690,247 737,244 702,318" fill="#6aadd5" stroke="#6aadd5" stroke-width="1"/><polygon points="737,244 743,297 702,318" fill="#67abd5" stroke="#67abd5" stroke-width="1"/><polygon points="737,244 770,251 743,297" fill="#64aad5" stroke="#64aad5" stroke-width="1"/><polygon points="770,251 793,296 743,297" fill="#62aad7" stroke="#62aad7" stroke-width="1"/><polygon points="770,251 838,254 793,296" fill="#59a3d2" stroke="#59a3d2" stroke-width="1"/><polygon points="838,254 860,313 793,296" fill="#57a1d2" stroke="#57a1d2" stroke-width="1"/><polygon points="838,254 879,264 860,313" fill="#509bce" stroke="#509bce" stroke-width="1"/><polygon points="879,264 912,300 860,313" fill="#4c97cc" stroke="#4c97cc" stroke-width="1"/><polygon points="879,264 923,268 912,300" fill="#4a96cc" stroke="#4a96cc" stroke-width="1"/><polygon points="923,268 951,302 912,300" fill="#4491c8" stroke="#4491c8" stroke-width="1"/><polygon points="923,268 975,260 951,302" fill="#3f8cc4" stroke="#3f8cc4" stroke-width="1"/><polygon points="975,260 1026,329 951,302" fill="#3c8ac4" stroke="#3c8ac4" stroke-width="1"/><polygon points="975,260 1032,250 1026,329" fill="#3986c2" stroke="#3986c2" stroke-width="1"/><polygon points="1032,250 1081,298 1026,329" fill="#3582c0" stroke="#3582c0" stroke-width="1"/><polygon points="1032,250 1093,258 1081,298" fill="#317ebc" stroke="#317ebc" stroke-width="1"/><polygon points="1093,258 1103,327 1081,298" fill="#317fbe" stroke="#317fbe" stroke-width="1"/><polygon points="1093,258 1140,257 1103,327" fill="#2f7cbd" stroke="#2f7cbd" stroke-width="1"/><polygon points="1140,257 1169,321 1103,327" fill="#2d7abc" stroke="#2d7abc" stroke-width="1"/><polygon points="1140,257 1197,248 1169,321" fill="#2773b7" stroke="#2773b7" stroke-width="1"/><polygon points="1197,248 1216,311 1169,321" fill="#2672b7" stroke="#2672b7" stroke-width="1"/><polygon points="1197,248 1238,264 1216,311" fill="#246fb4" stroke="#246fb4" stroke-width="1"/><polygon points="1238,264 1275,310 1216,311" fill="#1e68ae" stroke="#1e68ae" stroke-width="1"/><polygon points="1238,264 1305,261 1275,310" fill="#1b63aa" stroke="#1b63aa" stroke-width="1"/><polygon points="1305,261 1329,295 1275,310" fill="#195fa7" stroke="#195fa7" stroke-width="1"/><polygon points="1305,261 1364,264 1329,295" fill="#165ba3" stroke="#165ba3" stroke-width="1"/><polygon points="1364,264 1385,324 1329,295" fill="#1458a1" stroke="#1458a1" stroke-width="1"/><polygon points="1364,264 1416,251 1385,324" fill="#1558a1" stroke="#1558a1" stroke-width="1"/><polygon points="1416,251 1419,310 1385,324" fill="#1659a2" stroke="#1659a2" stroke-width="1"/><polygon points="-18,323 40,306 -10,353" fill="#dfebf6" stroke="#dfebf6" stroke-width="1"/><polygon points="-18,323 -10,353 -44,361" fill="#e1edf8" stroke="#e1edf8" stroke-width="1"/><polygon points="40,306 72,326 52,348" fill="#d9e7f4" stroke="#d9e7f4" stroke-width="1"/><polygon points="40,306 52,348 -10,353" fill="#dceaf6" stroke="#dceaf6" stroke-width="1"/><polygon points="72,326 120,329 117,374" fill="#d6e7f6" stroke="#d6e7f6" stroke-width="1"/><polygon points="72,326 117,374 52,348" fill="#d6e6f4" stroke="#d6e6f4" stroke-width="1"/><polygon points="120,329 195,300 163,376" fill="#cfe3f3" stroke="#cfe3f3" stroke-width="1"/><polygon points="120,329 163,376 117,374" fill="#d3e5f5" stroke="#d3e5f5" stroke-width="1"/><polygon points="195,300 225,320 212,361" fill="#cae0f2" stroke="#cae0f2" stroke-width="1"/><polygon points="195,300 212,361 163,376" fill="#cde1f3" stroke="#cde1f3" stroke-width="1"/><polygon points="225,320 278,298 263,364" fill="#c2dbee" stroke="#c2dbee" stroke-width="1"/><polygon points="225,320 263,364 212,361" fill="#c6def1" stroke="#c6def1" stroke-width="1"/><polygon points="278,298 349,309 328,374" fill="#b9d8ec" stroke="#b9d8ec" stroke-width="1"/><polygon points="278,298 328,374 263,364" fill="#bddaed" stroke="#bddaed" stroke-width="1"/><polygon points="349,309 400,299 356,378" fill="#b1d4e9" stroke="#b1d4e9" stroke-width="1"/><polygon points="349,309 356,378 328,374" fill="#b2d3e8" stroke="#b2d3e8" stroke-width="1"/><polygon points="400,299 439,318 424,373" fill="#a7cfe6" stroke="#a7cfe6" stroke-width="1"/><polygon points="400,299 424,373 356,378" fill="#abd0e6" stroke="#abd0e6" stroke-width="1"/><polygon points="439,318 478,302 479,361" fill="#9ecae3" stroke="#9ecae3" stroke-width="1"/><polygon points="439,318 479,361 424,373" fill="#a0cae3" stroke="#a0cae3" stroke-width="1"/><polygon points="478,302 552,326 533,377" fill="#93c5e1" stroke="#93c5e1" stroke-width="1"/><polygon points="478,302 533,377 479,361" fill="#95c5df" stroke="#95c5df" stroke-width="1"/><polygon points="552,326 614,299 579,373" fill="#86bedd" stroke="#86bedd" stroke-width="1"/><polygon points="552,326 579,373 533,377" fill="#8ac0dd" stroke="#8ac0dd" stroke-width="1"/><polygon points="614,299 650,321 633,361" fill="#7bb8da" stroke="#7bb8da" stroke-width="1"/><polygon points="614,299 633,361 579,373" fill="#80badb" stroke="#80badb" stroke-width="1"/><polygon points="650,321 702,318 684,349" fill="#73b3d9" stroke="#73b3d9" stroke-width="1"/><polygon points="650,321 684,349 633,361" fill="#78b7db" stroke="#78b7db" stroke-width="1"/><polygon points="702,318 743,297 723,363" fill="#69add6" stroke="#69add6" stroke-width="1"/><polygon points="702,318 723,363 684,349" fill="#6eb0d8" stroke="#6eb0d8" stroke-width="1"/><polygon points="743,297 793,296 763,359" fill="#60a7d4" stroke="#60a7d4" stroke-width="1"/><polygon points="743,297 763,359 723,363" fill="#64aad5" stroke="#64aad5" stroke-width="1"/><polygon points="793,296 860,313 837,368" fill="#57a1d2" stroke="#57a1d2" stroke-width="1"/><polygon points="793,296 837,368 763,359" fill="#5aa4d2" stroke="#5aa4d2" stroke-width="1"/><polygon points="860,313 912,300 875,379" fill="#4b96ca" stroke="#4b96ca" stroke-width="1"/><polygon points="860,313 875,379 837,368" fill="#509bcd" stroke="#509bcd" stroke-width="1"/><polygon points="912,300 951,302 942,358" fill="#4592c9" stroke="#4592c9" stroke-width="1"/><polygon points="912,300 942,358 875,379" fill="#4793c8" stroke="#4793c8" stroke-width="1"/><polygon points="951,302 1026,329 993,366" fill="#3c8ac4" stroke="#3c8ac4" stroke-width="1"/><polygon points="951,302 993,366 942,358" fill="#3f8dc5" stroke="#3f8dc5" stroke-width="1"/><polygon points="1026,329 1081,298 1041,360" fill="#3582c0" stroke="#3582c0" stroke-width="1"/><polygon points="1026,329 1041,360 993,366" fill="#3583bf" stroke="#3583bf" stroke-width="1"/><polygon points="1081,298 1103,327 1109,369" fill="#2d7aba" stroke="#2d7aba" stroke-width="1"/><polygon points="1081,298 1109,369 1041,360" fill="#2f7cbb" stroke="#2f7cbb" stroke-width="1"/><polygon points="1103,327 1169,321 1151,373" fill="#2976b8" stroke="#2976b8" stroke-width="1"/><polygon points="1103,327 1151,373 1109,369" fill="#2c79ba" stroke="#2c79ba" stroke-width="1"/><polygon points="1169,321 1216,311 1212,348" fill="#226eb2" stroke="#226eb2" stroke-width="1"/><polygon points="1169,321 1212,348 1151,373" fill="#2673b6" stroke="#2673b6" stroke-width="1"/><polygon points="1216,311 1275,310 1252,372" fill="#1f69af" stroke="#1f69af" stroke-width="1"/><polygon points="1216,311 1252,372 1212,348" fill="#216bb1" stroke="#216bb1" stroke-width="1"/><polygon points="1275,310 1329,295 1292,361" fill="#1b62aa" stroke="#1b62aa" stroke-width="1"/><polygon points="1275,310 1292,361 1252,372" fill="#2068af" stroke="#2068af" stroke-width="1"/><polygon points="1329,295 1385,324 1337,354" fill="#1559a2" stroke="#1559a2" stroke-width="1"/><polygon points="1329,295 1337,354 1292,361" fill="#1b61a9" stroke="#1b61a9" stroke-width="1"/><polygon points="1385,324 1419,310 1400,350" fill="#1457a0" stroke="#1457a0" stroke-width="1"/><polygon points="1385,324 1400,350 1337,354" fill="#175ba4" stroke="#175ba4" stroke-width="1"/><polygon points="-44,361 -10,353 -34,430" fill="#e1ecf7" stroke="#e1ecf7" stroke-width="1"/><polygon points="-10,353 28,416 -34,430" fill="#e1edf8" stroke="#e1edf8" stroke-width="1"/><polygon points="-10,353 52,348 28,416" fill="#ddeaf6" stroke="#ddeaf6" stroke-width="1"/><polygon points="52,348 94,418 28,416" fill="#dbeaf7" stroke="#dbeaf7" stroke-width="1"/><polygon points="52,348 117,374 94,418" fill="#d6e6f4" stroke="#d6e6f4" stroke-width="1"/><polygon points="117,374 147,421 94,418" fill="#d3e5f4" stroke="#d3e5f4" stroke-width="1"/><polygon points="117,374 163,376 147,421" fill="#d2e4f4" stroke="#d2e4f4" stroke-width="1"/><polygon points="163,376 193,402 147,421" fill="#cde1f2" stroke="#cde1f2" stroke-width="1"/><polygon points="163,376 212,361 193,402" fill="#cbe0f2" stroke="#cbe0f2" stroke-width="1"/><polygon points="212,361 237,425 193,402" fill="#c9dff2" stroke="#c9dff2" stroke-width="1"/><polygon points="212,361 263,364 237,425" fill="#c6def1" stroke="#c6def1" stroke-width="1"/><polygon points="263,364 271,431 237,425" fill="#c1dbee" stroke="#c1dbee" stroke-width="1"/><polygon points="263,364 328,374 271,431" fill="#bcd8ec" stroke="#bcd8ec" stroke-width="1"/><polygon points="328,374 326,415 271,431" fill="#b9d7eb" stroke="#b9d7eb" stroke-width="1"/><polygon points="328,374 356,378 326,415" fill="#b6d7eb" stroke="#b6d7eb" stroke-width="1"/><polygon points="356,378 379,416 326,415" fill="#b1d3e8" stroke="#b1d3e8" stroke-width="1"/><polygon points="356,378 424,373 379,416" fill="#add2e7" stroke="#add2e7" stroke-width="1"/><polygon points="424,373 446,401 379,416" fill="#a6cee5" stroke="#a6cee5" stroke-width="1"/><polygon points="424,373 479,361 446,401" fill="#a1cce4" stroke="#a1cce4" stroke-width="1"/><polygon points="479,361 509,413 446,401" fill="#99c7e1" stroke="#99c7e1" stroke-width="1"/><polygon points="479,361 533,377 509,413" fill="#95c6e1" stroke="#95c6e1" stroke-width="1"/><polygon points="533,377 547,419 509,413" fill="#91c4e1" stroke="#91c4e1" stroke-width="1"/><polygon points="533,377 579,373 547,419" fill="#8dc2e0" stroke="#8dc2e0" stroke-width="1"/><polygon points="579,373 593,409 547,419" fill="#88bfde" stroke="#88bfde" stroke-width="1"/><polygon points="579,373 633,361 593,409" fill="#82bcdc" stroke="#82bcdc" stroke-width="1"/><polygon points="633,361 655,418 593,409" fill="#7db9db" stroke="#7db9db" stroke-width="1"/><polygon points="633,361 684,349 655,418" fill="#75b4d8" stroke="#75b4d8" stroke-width="1"/><polygon points="684,349 695,423 655,418" fill="#74b4da" stroke="#74b4da" stroke-width="1"/><polygon points="684,349 723,363 695,423" fill="#6fb1d8" stroke="#6fb1d8" stroke-width="1"/><polygon points="723,363 747,399 695,423" fill="#69add6" stroke="#69add6" stroke-width="1"/><polygon points="723,363 763,359 747,399" fill="#66abd6" stroke="#66abd6" stroke-width="1"/><polygon points="763,359 797,400 747,399" fill="#60a7d4" stroke="#60a7d4" stroke-width="1"/><polygon points="763,359 837,368 797,400" fill="#5aa4d3" stroke="#5aa4d3" stroke-width="1"/><polygon points="837,368 846,425 797,400" fill="#549fd0" stroke="#549fd0" stroke-width="1"/><polygon points="837,368 875,379 846,425" fill="#529dcf" stroke="#529dcf" stroke-width="1"/><polygon points="875,379 906,430 846,425" fill="#4e99cd" stroke="#4e99cd" stroke-width="1"/><polygon points="875,379 942,358 906,430" fill="#4894ca" stroke="#4894ca" stroke-width="1"/><polygon points="942,358 970,401 906,430" fill="#418ec5" stroke="#418ec5" stroke-width="1"/><polygon points="942,358 993,366 970,401" fill="#3f8cc5" stroke="#3f8cc5" stroke-width="1"/><polygon points="993,366 1031,431 970,401" fill="#3987c2" stroke="#3987c2" stroke-width="1"/><polygon points="993,366 1041,360 1031,431" fill="#3785c1" stroke="#3785c1" stroke-width="1"/><polygon points="1041,360 1051,430 1031,431" fill="#3583c0" stroke="#3583c0" stroke-width="1"/><polygon points="1041,360 1109,369 1051,430" fill="#3481c0" stroke="#3481c0" stroke-width="1"/><polygon points="1109,369 1116,415 1051,430" fill="#2e7bba" stroke="#2e7bba" stroke-width="1"/><polygon points="1109,369 1151,373 1116,415" fill="#2c78ba" stroke="#2c78ba" stroke-width="1"/><polygon points="1151,373 1186,407 1116,415" fill="#2c78bb" stroke="#2c78bb" stroke-width="1"/><polygon points="1151,373 1212,348 1186,407" fill="#2773b7" stroke="#2773b7" stroke-width="1"/><polygon points="1212,348 1223,431 1186,407" fill="#226eb3" stroke="#226eb3" stroke-width="1"/><polygon points="1212,348 1252,372 1223,431" fill="#236db3" stroke="#236db3" stroke-width="1"/><polygon points="1252,372 1282,415 1223,431" fill="#226bb1" stroke="#226bb1" stroke-width="1"/><polygon points="1252,372 1292,361 1282,415" fill="#1d65ac" stroke="#1d65ac" stroke-width="1"/><polygon points="1292,361 1342,427 1282,415" fill="#1d63ab" stroke="#1d63ab" stroke-width="1"/><polygon points="1292,361 1337,354 1342,427" fill="#175ca4" stroke="#175ca4" stroke-width="1"/><polygon points="1337,354 1382,403 1342,427" fill="#195da6" stroke="#195da6" stroke-width="1"/><polygon points="1337,354 1400,350 1382,403" fill="#1659a3" stroke="#1659a3" stroke-width="1"/><polygon points="1400,350 1434,414 1382,403" fill="#14569f" stroke="#14569f" stroke-width="1"/><polygon points="-34,430 28,416 1,455" fill="#e1edf8" stroke="#e1edf8" stroke-width="1"/><polygon points="-34,430 1,455 -62,453" fill="#e2eef8" stroke="#e2eef8" stroke-width="1"/><polygon points="28,416 94,418 50,474" fill="#dbeaf7" stroke="#dbeaf7" stroke-width="1"/><polygon points="28,416 50,474 1,455" fill="#deebf7" stroke="#deebf7" stroke-width="1"/><polygon points="94,418 147,421 102,460" fill="#d5e6f5" stroke="#d5e6f5" stroke-width="1"/><polygon points="94,418 102,460 50,474" fill="#d7e7f5" stroke="#d7e7f5" stroke-width="1"/><polygon points="147,421 193,402 159,465" fill="#d0e3f4" stroke="#d0e3f4" stroke-width="1"/><polygon points="147,421 159,465 102,460" fill="#d1e3f2" stroke="#d1e3f2" stroke-width="1"/><polygon points="193,402 237,425 217,469" fill="#c9e0f2" stroke="#c9e0f2" stroke-width="1"/><polygon points="193,402 217,469 159,465" fill="#cde1f3" stroke="#cde1f3" stroke-width="1"/><polygon points="237,425 271,431 277,483" fill="#c0daee" stroke="#c0daee" stroke-width="1"/><polygon points="237,425 277,483 217,469" fill="#c5ddf0" stroke="#c5ddf0" stroke-width="1"/><polygon points="271,431 326,415 320,459" fill="#b9d7ec" stroke="#b9d7ec" stroke-width="1"/><polygon points="271,431 320,459 277,483" fill="#bcd9ed" stroke="#bcd9ed" stroke-width="1"/><polygon points="326,415 379,416 351,481" fill="#b3d5ea" stroke="#b3d5ea" stroke-width="1"/><polygon points="326,415 351,481 320,459" fill="#b4d4e9" stroke="#b4d4e9" stroke-width="1"/><polygon points="379,416 446,401 426,472" fill="#a6cee4" stroke="#a6cee4" stroke-width="1"/><polygon points="379,416 426,472 351,481" fill="#add2e7" stroke="#add2e7" stroke-width="1"/><polygon points="446,401 509,413 463,460" fill="#9ac7e1" stroke="#9ac7e1" stroke-width="1"/><polygon points="446,401 463,460 426,472" fill="#a1cce4" stroke="#a1cce4" stroke-width="1"/><polygon points="509,413 547,419 526,470" fill="#92c4e1" stroke="#92c4e1" stroke-width="1"/><polygon points="509,413 526,470 463,460" fill="#96c6e1" stroke="#96c6e1" stroke-width="1"/><polygon points="547,419 593,409 575,473" fill="#87bedc" stroke="#87bedc" stroke-width="1"/><polygon points="547,419 575,473 526,470" fill="#8dc2e0" stroke="#8dc2e0" stroke-width="1"/><polygon points="593,409 655,418 633,457" fill="#7ebadc" stroke="#7ebadc" stroke-width="1"/><polygon points="593,409 633,457 575,473" fill="#83bddd" stroke="#83bddd" stroke-width="1"/><polygon points="655,418 695,423 667,484" fill="#74b4d9" stroke="#74b4d9" stroke-width="1"/><polygon points="655,418 667,484 633,457" fill="#79b7db" stroke="#79b7db" stroke-width="1"/><polygon points="695,423 747,399 742,481" fill="#6aaed7" stroke="#6aaed7" stroke-width="1"/><polygon points="695,423 742,481 667,484" fill="#6caed6" stroke="#6caed6" stroke-width="1"/><polygon points="747,399 797,400 764,453" fill="#60a7d4" stroke="#60a7d4" stroke-width="1"/><polygon points="747,399 764,453 742,481" fill="#62a8d4" stroke="#62a8d4" stroke-width="1"/><polygon points="797,400 846,425 824,465" fill="#549fcf" stroke="#549fcf" stroke-width="1"/><polygon points="797,400 824,465 764,453" fill="#5aa4d3" stroke="#5aa4d3" stroke-width="1"/><polygon points="846,425 906,430 888,454" fill="#4e9ace" stroke="#4e9ace" stroke-width="1"/><polygon points="846,425 888,454 824,465" fill="#539ed0" stroke="#539ed0" stroke-width="1"/><polygon points="906,430 970,401 937,453" fill="#428ec6" stroke="#428ec6" stroke-width="1"/><polygon points="906,430 937,453 888,454" fill="#4693c8" stroke="#4693c8" stroke-width="1"/><polygon points="970,401 1031,431 974,474" fill="#3a88c2" stroke="#3a88c2" stroke-width="1"/><polygon points="970,401 974,474 937,453" fill="#418ec7" stroke="#418ec7" stroke-width="1"/><polygon points="1031,431 1051,430 1042,472" fill="#3583c0" stroke="#3583c0" stroke-width="1"/><polygon points="1031,431 1042,472 974,474" fill="#3987c3" stroke="#3987c3" stroke-width="1"/><polygon points="1051,430 1116,415 1088,467" fill="#2e7bba" stroke="#2e7bba" stroke-width="1"/><polygon points="1051,430 1088,467 1042,472" fill="#3582c0" stroke="#3582c0" stroke-width="1"/><polygon points="1116,415 1186,407 1134,463" fill="#2875b7" stroke="#2875b7" stroke-width="1"/><polygon points="1116,415 1134,463 1088,467" fill="#2e7bbb" stroke="#2e7bbb" stroke-width="1"/><polygon points="1186,407 1223,431 1204,480" fill="#2671b6" stroke="#2671b6" stroke-width="1"/><polygon points="1186,407 1204,480 1134,463" fill="#2874b8" stroke="#2874b8" stroke-width="1"/><polygon points="1223,431 1282,415 1234,455" fill="#1e68ae" stroke="#1e68ae" stroke-width="1"/><polygon points="1223,431 1234,455 1204,480" fill="#236eb4" stroke="#236eb4" stroke-width="1"/><polygon points="1282,415 1342,427 1311,472" fill="#1a5fa8" stroke="#1a5fa8" stroke-width="1"/><polygon points="1282,415 1311,472 1234,455" fill="#1b62a9" stroke="#1b62a9" stroke-width="1"/><polygon points="1342,427 1382,403 1361,458" fill="#1659a2" stroke="#1659a2" stroke-width="1"/><polygon points="1342,427 1361,458 1311,472" fill="#175ba4" stroke="#175ba4" stroke-width="1"/><polygon points="1382,403 1434,414 1401,460" fill="#1658a2" stroke="#1658a2" stroke-width="1"/><polygon points="1382,403 1401,460 1361,458" fill="#1558a1" stroke="#1558a1" stroke-width="1"/><polygon points="-62,453 1,455 -15,516" fill="#e2edf8" stroke="#e2edf8" stroke-width="1"/><polygon points="1,455 31,537 -15,516" fill="#e0ecf7" stroke="#e0ecf7" stroke-width="1"/><polygon points="1,455 50,474 31,537" fill="#dceaf6" stroke="#dceaf6" stroke-width="1"/><polygon points="50,474 72,522 31,537" fill="#dae8f5" stroke="#dae8f5" stroke-width="1"/><polygon points="50,474 102,460 72,522" fill="#d9e8f6" stroke="#d9e8f6" stroke-width="1"/><polygon points="102,460 138,534 72,522" fill="#d5e6f4" stroke="#d5e6f4" stroke-width="1"/><polygon points="102,460 159,465 138,534" fill="#d1e3f3" stroke="#d1e3f3" stroke-width="1"/><polygon points="159,465 180,516 138,534" fill="#cee1f2" stroke="#cee1f2" stroke-width="1"/><polygon points="159,465 217,469 180,516" fill="#cee2f4" stroke="#cee2f4" stroke-width="1"/><polygon points="217,469 220,533 180,516" fill="#cae0f2" stroke="#cae0f2" stroke-width="1"/><polygon points="217,469 277,483 220,533" fill="#c4ddef" stroke="#c4ddef" stroke-width="1"/><polygon points="277,483 272,506 220,533" fill="#c1dbee" stroke="#c1dbee" stroke-width="1"/><polygon points="277,483 320,459 272,506" fill="#bedaee" stroke="#bedaee" stroke-width="1"/><polygon points="320,459 340,519 272,506" fill="#b9d8ec" stroke="#b9d8ec" stroke-width="1"/><polygon points="320,459 351,481 340,519" fill="#b5d6eb" stroke="#b5d6eb" stroke-width="1"/><polygon points="351,481 396,513 340,519" fill="#b0d3e8" stroke="#b0d3e8" stroke-width="1"/><polygon points="351,481 426,472 396,513" fill="#abd0e6" stroke="#abd0e6" stroke-width="1"/><polygon points="426,472 451,506 396,513" fill="#a5cde4" stroke="#a5cde4" stroke-width="1"/><polygon points="426,472 463,460 451,506" fill="#9fcae2" stroke="#9fcae2" stroke-width="1"/><polygon points="463,460 484,526 451,506" fill="#9dcae3" stroke="#9dcae3" stroke-width="1"/><polygon points="463,460 526,470 484,526" fill="#98c7e1" stroke="#98c7e1" stroke-width="1"/><polygon points="526,470 532,513 484,526" fill="#94c6e1" stroke="#94c6e1" stroke-width="1"/><polygon points="526,470 575,473 532,513" fill="#8dc1de" stroke="#8dc1de" stroke-width="1"/><polygon points="575,473 606,527 532,513" fill="#88bfdd" stroke="#88bfdd" stroke-width="1"/><polygon points="575,473 633,457 606,527" fill="#81bbdc" stroke="#81bbdc" stroke-width="1"/><polygon points="633,457 643,508 606,527" fill="#7ebadc" stroke="#7ebadc" stroke-width="1"/><polygon points="633,457 667,484 643,508" fill="#78b6d9" stroke="#78b6d9" stroke-width="1"/><polygon points="667,484 697,528 643,508" fill="#75b5da" stroke="#75b5da" stroke-width="1"/><polygon points="667,484 742,481 697,528" fill="#6dafd6" stroke="#6dafd6" stroke-width="1"/><polygon points="742,481 749,507 697,528" fill="#68add7" stroke="#68add7" stroke-width="1"/><polygon points="742,481 764,453 749,507" fill="#63a9d4" stroke="#63a9d4" stroke-width="1"/><polygon points="764,453 813,522 749,507" fill="#61a9d6" stroke="#61a9d6" stroke-width="1"/><polygon points="764,453 824,465 813,522" fill="#59a3d2" stroke="#59a3d2" stroke-width="1"/><polygon points="824,465 872,535 813,522" fill="#56a0d1" stroke="#56a0d1" stroke-width="1"/><polygon points="824,465 888,454 872,535" fill="#519ccf" stroke="#519ccf" stroke-width="1"/><polygon points="888,454 924,518 872,535" fill="#4a96cb" stroke="#4a96cb" stroke-width="1"/><polygon points="888,454 937,453 924,518" fill="#4995cb" stroke="#4995cb" stroke-width="1"/><polygon points="937,453 972,513 924,518" fill="#428fc6" stroke="#428fc6" stroke-width="1"/><polygon points="937,453 974,474 972,513" fill="#418ec6" stroke="#418ec6" stroke-width="1"/><polygon points="974,474 1008,517 972,513" fill="#3c8ac4" stroke="#3c8ac4" stroke-width="1"/><polygon points="974,474 1042,472 1008,517" fill="#3886c1" stroke="#3886c1" stroke-width="1"/><polygon points="1042,472 1081,533 1008,517" fill="#3280bd" stroke="#3280bd" stroke-width="1"/><polygon points="1042,472 1088,467 1081,533" fill="#317fbd" stroke="#317fbd" stroke-width="1"/><polygon points="1088,467 1109,515 1081,533" fill="#2e7bbb" stroke="#2e7bbb" stroke-width="1"/><polygon points="1088,467 1134,463 1109,515" fill="#2d7abb" stroke="#2d7abb" stroke-width="1"/><polygon points="1134,463 1165,515 1109,515" fill="#2d7abb" stroke="#2d7abb" stroke-width="1"/><polygon points="1134,463 1204,480 1165,515" fill="#2673b6" stroke="#2673b6" stroke-width="1"/><polygon points="1204,480 1218,516 1165,515" fill="#2572b6" stroke="#2572b6" stroke-width="1"/><polygon points="1204,480 1234,455 1218,516" fill="#236eb4" stroke="#236eb4" stroke-width="1"/><polygon points="1234,455 1264,522 1218,516" fill="#1f69af" stroke="#1f69af" stroke-width="1"/><polygon points="1234,455 1311,472 1264,522" fill="#1d65ac" stroke="#1d65ac" stroke-width="1"/><polygon points="1311,472 1336,521 1264,522" fill="#195fa7" stroke="#195fa7" stroke-width="1"/><polygon points="1311,472 1361,458 1336,521" fill="#1a5fa7" stroke="#1a5fa7" stroke-width="1"/><polygon points="1361,458 1389,522 1336,521" fill="#1559a2" stroke="#1559a2" stroke-width="1"/><polygon points="1361,458 1401,460 1389,522" fill="#1558a2" stroke="#1558a2" stroke-width="1"/><polygon points="1401,460 1419,529 1389,522" fill="#1457a0" stroke="#1457a0" stroke-width="1"/><polygon points="-15,516 31,537 -16,573" fill="#e1edf8" stroke="#e1edf8" stroke-width="1"/><polygon points="-15,516 -16,573 -39,565" fill="#e2eef8" stroke="#e2eef8" stroke-width="1"/><polygon points="31,537 72,522 54,574" fill="#dbe9f6" stroke="#dbe9f6" stroke-width="1"/><polygon points="31,537 54,574 -16,573" fill="#deebf7" stroke="#deebf7" stroke-width="1"/><polygon points="72,522 138,534 120,577" fill="#d3e4f3" stroke="#d3e4f3" stroke-width="1"/><polygon points="72,522 120,577 54,574" fill="#d8e8f6" stroke="#d8e8f6" stroke-width="1"/><polygon points="138,534 180,516 166,557" fill="#cee1f2" stroke="#cee1f2" stroke-width="1"/><polygon points="138,534 166,557 120,577" fill="#d1e3f3" stroke="#d1e3f3" stroke-width="1"/><polygon points="180,516 220,533 210,582" fill="#cadff1" stroke="#cadff1" stroke-width="1"/><polygon points="180,516 210,582 166,557" fill="#cde2f3" stroke="#cde2f3" stroke-width="1"/><polygon points="220,533 272,506 246,558" fill="#c4ddf0" stroke="#c4ddf0" stroke-width="1"/><polygon points="220,533 246,558 210,582" fill="#c6def0" stroke="#c6def0" stroke-width="1"/><polygon points="272,506 340,519 320,586" fill="#bad8ed" stroke="#bad8ed" stroke-width="1"/><polygon points="272,506 320,586 246,558" fill="#bfdbef" stroke="#bfdbef" stroke-width="1"/><polygon points="340,519 396,513 350,577" fill="#afd1e7" stroke="#afd1e7" stroke-width="1"/><polygon points="340,519 350,577 320,586" fill="#b5d5ea" stroke="#b5d5ea" stroke-width="1"/><polygon points="396,513 451,506 404,580" fill="#a6cee5" stroke="#a6cee5" stroke-width="1"/><polygon points="396,513 404,580 350,577" fill="#acd1e7" stroke="#acd1e7" stroke-width="1"/><polygon points="451,506 484,526 473,563" fill="#9cc9e2" stroke="#9cc9e2" stroke-width="1"/><polygon points="451,506 473,563 404,580" fill="#a1cbe3" stroke="#a1cbe3" stroke-width="1"/><polygon points="484,526 532,513 510,581" fill="#95c6e1" stroke="#95c6e1" stroke-width="1"/><polygon points="484,526 510,581 473,563" fill="#99c7e2" stroke="#99c7e2" stroke-width="1"/><polygon points="532,513 606,527 573,581" fill="#8ac1df" stroke="#8ac1df" stroke-width="1"/><polygon points="532,513 573,581 510,581" fill="#90c4e1" stroke="#90c4e1" stroke-width="1"/><polygon points="606,527 643,508 620,566" fill="#7fbbdd" stroke="#7fbbdd" stroke-width="1"/><polygon points="606,527 620,566 573,581" fill="#82bcdc" stroke="#82bcdc" stroke-width="1"/><polygon points="643,508 697,528 692,578" fill="#74b4da" stroke="#74b4da" stroke-width="1"/><polygon points="643,508 692,578 620,566" fill="#78b6da" stroke="#78b6da" stroke-width="1"/><polygon points="697,528 749,507 728,573" fill="#6aaed7" stroke="#6aaed7" stroke-width="1"/><polygon points="697,528 728,573 692,578" fill="#6fb1d9" stroke="#6fb1d9" stroke-width="1"/><polygon points="749,507 813,522 788,579" fill="#5ba4d2" stroke="#5ba4d2" stroke-width="1"/><polygon points="749,507 788,579 728,573" fill="#63a9d5" stroke="#63a9d5" stroke-width="1"/><polygon points="813,522 872,535 846,569" fill="#529dcf" stroke="#529dcf" stroke-width="1"/><polygon points="813,522 846,569 788,579" fill="#58a2d2" stroke="#58a2d2" stroke-width="1"/><polygon points="872,535 924,518 895,578" fill="#4995c9" stroke="#4995c9" stroke-width="1"/><polygon points="872,535 895,578 846,569" fill="#509ccf" stroke="#509ccf" stroke-width="1"/><polygon points="924,518 972,513 948,582" fill="#408dc5" stroke="#408dc5" stroke-width="1"/><polygon points="924,518 948,582 895,578" fill="#4592c8" stroke="#4592c8" stroke-width="1"/><polygon points="972,513 1008,517 999,585" fill="#3886c1" stroke="#3886c1" stroke-width="1"/><polygon points="972,513 999,585 948,582" fill="#3d8ac4" stroke="#3d8ac4" stroke-width="1"/><polygon points="1008,517 1081,533 1056,577" fill="#3583c0" stroke="#3583c0" stroke-width="1"/><polygon points="1008,517 1056,577 999,585" fill="#3583bf" stroke="#3583bf" stroke-width="1"/><polygon points="1081,533 1109,515 1093,579" fill="#2d7aba" stroke="#2d7aba" stroke-width="1"/><polygon points="1081,533 1093,579 1056,577" fill="#327fbe" stroke="#327fbe" stroke-width="1"/><polygon points="1109,515 1165,515 1154,569" fill="#2b77b9" stroke="#2b77b9" stroke-width="1"/><polygon points="1109,515 1154,569 1093,579" fill="#2e7bbc" stroke="#2e7bbc" stroke-width="1"/><polygon points="1165,515 1218,516 1193,560" fill="#2470b4" stroke="#2470b4" stroke-width="1"/><polygon points="1165,515 1193,560 1154,569" fill="#2975b9" stroke="#2975b9" stroke-width="1"/><polygon points="1218,516 1264,522 1256,589" fill="#216bb1" stroke="#216bb1" stroke-width="1"/><polygon points="1218,516 1256,589 1193,560" fill="#236eb4" stroke="#236eb4" stroke-width="1"/><polygon points="1264,522 1336,521 1296,561" fill="#1960a7" stroke="#1960a7" stroke-width="1"/><polygon points="1264,522 1296,561 1256,589" fill="#1d65ac" stroke="#1d65ac" stroke-width="1"/><polygon points="1336,521 1389,522 1342,569" fill="#1458a1" stroke="#1458a1" stroke-width="1"/><polygon points="1336,521 1342,569 1296,561" fill="#1b60a8" stroke="#1b60a8" stroke-width="1"/><polygon points="1389,522 1419,529 1397,588" fill="#185aa4" stroke="#185aa4" stroke-width="1"/><polygon points="1389,522 1397,588 1342,569" fill="#185ba5" stroke="#185ba5" stroke-width="1"/><polygon points="-39,565 -16,573 -41,617" fill="#e1ecf6" stroke="#e1ecf6" stroke-width="1"/><polygon points="-16,573 13,629 -41,617" fill="#e1ecf7" stroke="#e1ecf7" stroke-width="1"/><polygon points="-16,573 54,574 13,629" fill="#deebf7" stroke="#deebf7" stroke-width="1"/><polygon points="54,574 87,613 13,629" fill="#dbe9f6" stroke="#dbe9f6" stroke-width="1"/><polygon points="54,574 120,577 87,613" fill="#d6e6f4" stroke="#d6e6f4" stroke-width="1"/><polygon points="120,577 115,623 87,613" fill="#d5e6f5" stroke="#d5e6f5" stroke-width="1"/><polygon points="120,577 166,557 115,623" fill="#d1e3f3" stroke="#d1e3f3" stroke-width="1"/><polygon points="166,557 185,638 115,623" fill="#d0e3f3" stroke="#d0e3f3" stroke-width="1"/><polygon points="166,557 210,582 185,638" fill="#cbe0f1" stroke="#cbe0f1" stroke-width="1"/><polygon points="210,582 218,611 185,638" fill="#cae0f2" stroke="#cae0f2" stroke-width="1"/><polygon points="210,582 246,558 218,611" fill="#c6ddef" stroke="#c6ddef" stroke-width="1"/><polygon points="246,558 275,614 218,611" fill="#c2dbee" stroke="#c2dbee" stroke-width="1"/><polygon points="246,558 320,586 275,614" fill="#bedaed" stroke="#bedaed" stroke-width="1"/><polygon points="320,586 329,631 275,614" fill="#b9d7eb" stroke="#b9d7eb" stroke-width="1"/><polygon points="320,586 350,577 329,631" fill="#b6d6eb" stroke="#b6d6eb" stroke-width="1"/><polygon points="350,577 393,615 329,631" fill="#b0d3e8" stroke="#b0d3e8" stroke-width="1"/><polygon points="350,577 404,580 393,615" fill="#add1e7" stroke="#add1e7" stroke-width="1"/><polygon points="404,580 431,617 393,615" fill="#a7cee4" stroke="#a7cee4" stroke-width="1"/><polygon points="404,580 473,563 431,617" fill="#a2cbe3" stroke="#a2cbe3" stroke-width="1"/><polygon points="473,563 483,633 431,617" fill="#9dcae3" stroke="#9dcae3" stroke-width="1"/><polygon points="473,563 510,581 483,633" fill="#98c7e2" stroke="#98c7e2" stroke-width="1"/><polygon points="510,581 540,626 483,633" fill="#94c5e0" stroke="#94c5e0" stroke-width="1"/><polygon points="510,581 573,581 540,626" fill="#8fc3e0" stroke="#8fc3e0" stroke-width="1"/><polygon points="573,581 609,623 540,626" fill="#86bddc" stroke="#86bddc" stroke-width="1"/><polygon points="573,581 620,566 609,623" fill="#83bddd" stroke="#83bddd" stroke-width="1"/><polygon points="620,566 642,637 609,623" fill="#7cb8da" stroke="#7cb8da" stroke-width="1"/><polygon points="620,566 692,578 642,637" fill="#7ab8dc" stroke="#7ab8dc" stroke-width="1"/><polygon points="692,578 716,619 642,637" fill="#71b2d8" stroke="#71b2d8" stroke-width="1"/><polygon points="692,578 728,573 716,619" fill="#6baed7" stroke="#6baed7" stroke-width="1"/><polygon points="728,573 756,640 716,619" fill="#68acd6" stroke="#68acd6" stroke-width="1"/><polygon points="728,573 788,579 756,640" fill="#64abd6" stroke="#64abd6" stroke-width="1"/><polygon points="788,579 805,615 756,640" fill="#5fa8d6" stroke="#5fa8d6" stroke-width="1"/><polygon points="788,579 846,569 805,615" fill="#57a2d2" stroke="#57a2d2" stroke-width="1"/><polygon points="846,569 843,639 805,615" fill="#539dce" stroke="#539dce" stroke-width="1"/><polygon points="846,569 895,578 843,639" fill="#4e9acc" stroke="#4e9acc" stroke-width="1"/><polygon points="895,578 920,620 843,639" fill="#4d99cd" stroke="#4d99cd" stroke-width="1"/><polygon points="895,578 948,582 920,620" fill="#4794ca" stroke="#4794ca" stroke-width="1"/><polygon points="948,582 963,625 920,620" fill="#4390c8" stroke="#4390c8" stroke-width="1"/><polygon points="948,582 999,585 963,625" fill="#3c8ac3" stroke="#3c8ac3" stroke-width="1"/><polygon points="999,585 1006,641 963,625" fill="#3b89c3" stroke="#3b89c3" stroke-width="1"/><polygon points="999,585 1056,577 1006,641" fill="#3582be" stroke="#3582be" stroke-width="1"/><polygon points="1056,577 1071,615 1006,641" fill="#3280bd" stroke="#3280bd" stroke-width="1"/><polygon points="1056,577 1093,579 1071,615" fill="#307ebc" stroke="#307ebc" stroke-width="1"/><polygon points="1093,579 1101,623 1071,615" fill="#327fbf" stroke="#327fbf" stroke-width="1"/><polygon points="1093,579 1154,569 1101,623" fill="#2e7abb" stroke="#2e7abb" stroke-width="1"/><polygon points="1154,569 1166,634 1101,623" fill="#2c79bb" stroke="#2c79bb" stroke-width="1"/><polygon points="1154,569 1193,560 1166,634" fill="#2571b5" stroke="#2571b5" stroke-width="1"/><polygon points="1193,560 1229,628 1166,634" fill="#2470b5" stroke="#2470b5" stroke-width="1"/><polygon points="1193,560 1256,589 1229,628" fill="#1f6ab0" stroke="#1f6ab0" stroke-width="1"/><polygon points="1256,589 1262,612 1229,628" fill="#1e68ae" stroke="#1e68ae" stroke-width="1"/><polygon points="1256,589 1296,561 1262,612" fill="#1b64ab" stroke="#1b64ab" stroke-width="1"/><polygon points="1296,561 1320,616 1262,612" fill="#1e65ac" stroke="#1e65ac" stroke-width="1"/><polygon points="1296,561 1342,569 1320,616" fill="#185ea6" stroke="#185ea6" stroke-width="1"/><polygon points="1342,569 1391,625 1320,616" fill="#175ba4" stroke="#175ba4" stroke-width="1"/><polygon points="1342,569 1397,588 1391,625" fill="#175aa3" stroke="#175aa3" stroke-width="1"/><polygon points="1397,588 1435,641 1391,625" fill="#175aa3" stroke="#175aa3" stroke-width="1"/><polygon points="-41,617 13,629 -12,685" fill="#e2eef8" stroke="#e2eef8" stroke-width="1"/><polygon points="-41,617 -12,685 -60,677" fill="#e2eef8" stroke="#e2eef8" stroke-width="1"/><polygon points="13,629 87,613 35,687" fill="#dbe9f6" stroke="#dbe9f6" stroke-width="1"/><polygon points="13,629 35,687 -12,685" fill="#e0ecf8" stroke="#e0ecf8" stroke-width="1"/><polygon points="87,613 115,623 116,687" fill="#d5e5f4" stroke="#d5e5f4" stroke-width="1"/><polygon points="87,613 116,687 35,687" fill="#d7e7f4" stroke="#d7e7f4" stroke-width="1"/><polygon points="115,623 185,638 142,668" fill="#d1e4f4" stroke="#d1e4f4" stroke-width="1"/><polygon points="115,623 142,668 116,687" fill="#d2e4f3" stroke="#d2e4f3" stroke-width="1"/><polygon points="185,638 218,611 215,662" fill="#cadff1" stroke="#cadff1" stroke-width="1"/><polygon points="185,638 215,662 142,668" fill="#cde1f2" stroke="#cde1f2" stroke-width="1"/><polygon points="218,611 275,614 259,675" fill="#c3dcef" stroke="#c3dcef" stroke-width="1"/><polygon points="218,611 259,675 215,662" fill="#c6ddf0" stroke="#c6ddf0" stroke-width="1"/><polygon points="275,614 329,631 327,679" fill="#b9d7eb" stroke="#b9d7eb" stroke-width="1"/><polygon points="275,614 327,679 259,675" fill="#bcd9ed" stroke="#bcd9ed" stroke-width="1"/><polygon points="329,631 393,615 376,669" fill="#aed1e7" stroke="#aed1e7" stroke-width="1"/><polygon points="329,631 376,669 327,679" fill="#b4d6ea" stroke="#b4d6ea" stroke-width="1"/><polygon points="393,615 431,617 426,673" fill="#a5cde4" stroke="#a5cde4" stroke-width="1"/><polygon points="393,615 426,673 376,669" fill="#aad0e6" stroke="#aad0e6" stroke-width="1"/><polygon points="431,617 483,633 482,662" fill="#9dcae3" stroke="#9dcae3" stroke-width="1"/><polygon points="431,617 482,662 426,673" fill="#a0cbe3" stroke="#a0cbe3" stroke-width="1"/><polygon points="483,633 540,626 531,666" fill="#91c3df" stroke="#91c3df" stroke-width="1"/><polygon points="483,633 531,666 482,662" fill="#95c5e0" stroke="#95c5e0" stroke-width="1"/><polygon points="540,626 609,623 573,677" fill="#87bedd" stroke="#87bedd" stroke-width="1"/><polygon points="540,626 573,677 531,666" fill="#8cc1de" stroke="#8cc1de" stroke-width="1"/><polygon points="609,623 642,637 612,687" fill="#7eb9db" stroke="#7eb9db" stroke-width="1"/><polygon points="609,623 612,687 573,677" fill="#81bbdb" stroke="#81bbdb" stroke-width="1"/><polygon points="642,637 716,619 670,670" fill="#74b4da" stroke="#74b4da" stroke-width="1"/><polygon points="642,637 670,670 612,687" fill="#7ab7da" stroke="#7ab7da" stroke-width="1"/><polygon points="716,619 756,640 714,669" fill="#66abd4" stroke="#66abd4" stroke-width="1"/><polygon points="716,619 714,669 670,670" fill="#6eb0d7" stroke="#6eb0d7" stroke-width="1"/><polygon points="756,640 805,615 779,683" fill="#60a8d6" stroke="#60a8d6" stroke-width="1"/><polygon points="756,640 779,683 714,669" fill="#62a8d3" stroke="#62a8d3" stroke-width="1"/><polygon points="805,615 843,639 827,682" fill="#56a1d1" stroke="#56a1d1" stroke-width="1"/><polygon points="805,615 827,682 779,683" fill="#5ba5d5" stroke="#5ba5d5" stroke-width="1"/><polygon points="843,639 920,620 871,672" fill="#4d98cc" stroke="#4d98cc" stroke-width="1"/><polygon points="843,639 871,672 827,682" fill="#539ecf" stroke="#539ecf" stroke-width="1"/><polygon points="920,620 963,625 935,692" fill="#428fc7" stroke="#428fc7" stroke-width="1"/><polygon points="920,620 935,692 871,672" fill="#4793c9" stroke="#4793c9" stroke-width="1"/><polygon points="963,625 1006,641 999,681" fill="#3b89c3" stroke="#3b89c3" stroke-width="1"/><polygon points="963,625 999,681 935,692" fill="#3f8cc5" stroke="#3f8cc5" stroke-width="1"/><polygon points="1006,641 1071,615 1023,672" fill="#3582bf" stroke="#3582bf" stroke-width="1"/><polygon points="1006,641 1023,672 999,681" fill="#3886c1" stroke="#3886c1" stroke-width="1"/><polygon points="1071,615 1101,623 1099,667" fill="#307dbc" stroke="#307dbc" stroke-width="1"/><polygon points="1071,615 1099,667 1023,672" fill="#3381bf" stroke="#3381bf" stroke-width="1"/><polygon points="1101,623 1166,634 1146,675" fill="#2875b7" stroke="#2875b7" stroke-width="1"/><polygon points="1101,623 1146,675 1099,667" fill="#2b78b8" stroke="#2b78b8" stroke-width="1"/><polygon points="1166,634 1229,628 1179,693" fill="#2470b4" stroke="#2470b4" stroke-width="1"/><polygon points="1166,634 1179,693 1146,675" fill="#2773b6" stroke="#2773b6" stroke-width="1"/><polygon points="1229,628 1262,612 1258,666" fill="#216ab1" stroke="#216ab1" stroke-width="1"/><polygon points="1229,628 1258,666 1179,693" fill="#226cb2" stroke="#226cb2" stroke-width="1"/><polygon points="1262,612 1320,616 1304,669" fill="#1d64ac" stroke="#1d64ac" stroke-width="1"/><polygon points="1262,612 1304,669 1258,666" fill="#1d65ac" stroke="#1d65ac" stroke-width="1"/><polygon points="1320,616 1391,625 1348,677" fill="#1659a2" stroke="#1659a2" stroke-width="1"/><polygon points="1320,616 1348,677 1304,669" fill="#1a5fa7" stroke="#1a5fa7" stroke-width="1"/><polygon points="1391,625 1435,641 1397,670" fill="#13559e" stroke="#13559e" stroke-width="1"/><polygon points="1391,625 1397,670 1348,677" fill="#195ca5" stroke="#195ca5" stroke-width="1"/><polygon points="-60,677 -12,685 -30,734" fill="#e3eef8" stroke="#e3eef8" stroke-width="1"/><polygon points="-12,685 18,718 -30,734" fill="#e0ecf7" stroke="#e0ecf7" stroke-width="1"/><polygon points="-12,685 35,687 18,718" fill="#deebf6" stroke="#deebf6" stroke-width="1"/><polygon points="35,687 86,722 18,718" fill="#dceaf7" stroke="#dceaf7" stroke-width="1"/><polygon points="35,687 116,687 86,722" fill="#d8e8f6" stroke="#d8e8f6" stroke-width="1"/><polygon points="116,687 145,730 86,722" fill="#d4e5f4" stroke="#d4e5f4" stroke-width="1"/><polygon points="116,687 142,668 145,730" fill="#d1e3f2" stroke="#d1e3f2" stroke-width="1"/><polygon points="142,668 190,722 145,730" fill="#d0e3f4" stroke="#d0e3f4" stroke-width="1"/><polygon points="142,668 215,662 190,722" fill="#cce0f1" stroke="#cce0f1" stroke-width="1"/><polygon points="215,662 245,714 190,722" fill="#c9dff1" stroke="#c9dff1" stroke-width="1"/><polygon points="215,662 259,675 245,714" fill="#c5ddf0" stroke="#c5ddf0" stroke-width="1"/><polygon points="259,675 274,714 245,714" fill="#c2ddf0" stroke="#c2ddf0" stroke-width="1"/><polygon points="259,675 327,679 274,714" fill="#bdd9ed" stroke="#bdd9ed" stroke-width="1"/><polygon points="327,679 344,735 274,714" fill="#b7d5ea" stroke="#b7d5ea" stroke-width="1"/><polygon points="327,679 376,669 344,735" fill="#b4d5ea" stroke="#b4d5ea" stroke-width="1"/><polygon points="376,669 379,725 344,735" fill="#b0d4e9" stroke="#b0d4e9" stroke-width="1"/><polygon points="376,669 426,673 379,725" fill="#abd1e7" stroke="#abd1e7" stroke-width="1"/><polygon points="426,673 453,731 379,725" fill="#a4cce3" stroke="#a4cce3" stroke-width="1"/><polygon points="426,673 482,662 453,731" fill="#a0cbe4" stroke="#a0cbe4" stroke-width="1"/><polygon points="482,662 480,719 453,731" fill="#9bc9e2" stroke="#9bc9e2" stroke-width="1"/><polygon points="482,662 531,666 480,719" fill="#97c7e2" stroke="#97c7e2" stroke-width="1"/><polygon points="531,666 534,715 480,719" fill="#95c6e2" stroke="#95c6e2" stroke-width="1"/><polygon points="531,666 573,677 534,715" fill="#8ec3e0" stroke="#8ec3e0" stroke-width="1"/><polygon points="573,677 595,713 534,715" fill="#87bedc" stroke="#87bedc" stroke-width="1"/><polygon points="573,677 612,687 595,713" fill="#84bedd" stroke="#84bedd" stroke-width="1"/><polygon points="612,687 664,726 595,713" fill="#7db9db" stroke="#7db9db" stroke-width="1"/><polygon points="612,687 670,670 664,726" fill="#79b7db" stroke="#79b7db" stroke-width="1"/><polygon points="670,670 702,733 664,726" fill="#72b2d8" stroke="#72b2d8" stroke-width="1"/><polygon points="670,670 714,669 702,733" fill="#6fb0d7" stroke="#6fb0d7" stroke-width="1"/><polygon points="714,669 763,739 702,733" fill="#68add6" stroke="#68add6" stroke-width="1"/><polygon points="714,669 779,683 763,739" fill="#62a8d4" stroke="#62a8d4" stroke-width="1"/><polygon points="779,683 802,722 763,739" fill="#5da5d3" stroke="#5da5d3" stroke-width="1"/><polygon points="779,683 827,682 802,722" fill="#5ba5d4" stroke="#5ba5d4" stroke-width="1"/><polygon points="827,682 855,712 802,722" fill="#549ecf" stroke="#549ecf" stroke-width="1"/><polygon points="827,682 871,672 855,712" fill="#509bcd" stroke="#509bcd" stroke-width="1"/><polygon points="871,672 907,735 855,712" fill="#4f9ace" stroke="#4f9ace" stroke-width="1"/><polygon points="871,672 935,692 907,735" fill="#4a96cb" stroke="#4a96cb" stroke-width="1"/><polygon points="935,692 978,738 907,735" fill="#4390c7" stroke="#4390c7" stroke-width="1"/><polygon points="935,692 999,681 978,738" fill="#3c89c3" stroke="#3c89c3" stroke-width="1"/><polygon points="999,681 1019,732 978,738" fill="#3785c0" stroke="#3785c0" stroke-width="1"/><polygon points="999,681 1023,672 1019,732" fill="#3785c0" stroke="#3785c0" stroke-width="1"/><polygon points="1023,672 1050,722 1019,732" fill="#3886c2" stroke="#3886c2" stroke-width="1"/><polygon points="1023,672 1099,667 1050,722" fill="#3381bf" stroke="#3381bf" stroke-width="1"/><polygon points="1099,667 1113,733 1050,722" fill="#327fbe" stroke="#327fbe" stroke-width="1"/><polygon points="1099,667 1146,675 1113,733" fill="#2b78b9" stroke="#2b78b9" stroke-width="1"/><polygon points="1146,675 1157,724 1113,733" fill="#2a77b9" stroke="#2a77b9" stroke-width="1"/><polygon points="1146,675 1179,693 1157,724" fill="#2875b8" stroke="#2875b8" stroke-width="1"/><polygon points="1179,693 1222,738 1157,724" fill="#2773b8" stroke="#2773b8" stroke-width="1"/><polygon points="1179,693 1258,666 1222,738" fill="#206bb1" stroke="#206bb1" stroke-width="1"/><polygon points="1258,666 1285,732 1222,738" fill="#216ab1" stroke="#216ab1" stroke-width="1"/><polygon points="1258,666 1304,669 1285,732" fill="#1c64ab" stroke="#1c64ab" stroke-width="1"/><polygon points="1304,669 1314,737 1285,732" fill="#185fa7" stroke="#185fa7" stroke-width="1"/><polygon points="1304,669 1348,677 1314,737" fill="#195ea6" stroke="#195ea6" stroke-width="1"/><polygon points="1348,677 1392,730 1314,737" fill="#165aa3" stroke="#165aa3" stroke-width="1"/><polygon points="1348,677 1397,670 1392,730" fill="#175aa3" stroke="#175aa3" stroke-width="1"/><polygon points="1397,670 1425,728 1392,730" fill="#175aa3" stroke="#175aa3" stroke-width="1"/><polygon points="-30,734 18,718 17,781" fill="#e0ecf7" stroke="#e0ecf7" stroke-width="1"/><polygon points="-30,734 17,781 -64,787" fill="#e2edf8" stroke="#e2edf8" stroke-width="1"/><polygon points="18,718 86,722 59,791" fill="#dae8f5" stroke="#dae8f5" stroke-width="1"/><polygon points="18,718 59,791 17,781" fill="#ddebf7" stroke="#ddebf7" stroke-width="1"/><polygon points="86,722 145,730 94,795" fill="#d4e4f3" stroke="#d4e4f3" stroke-width="1"/><polygon points="86,722 94,795 59,791" fill="#d8e8f6" stroke="#d8e8f6" stroke-width="1"/><polygon points="145,730 190,722 160,770" fill="#cee1f2" stroke="#cee1f2" stroke-width="1"/><polygon points="145,730 160,770 94,795" fill="#d2e4f4" stroke="#d2e4f4" stroke-width="1"/><polygon points="190,722 245,714 194,771" fill="#c9def1" stroke="#c9def1" stroke-width="1"/><polygon points="190,722 194,771 160,770" fill="#cde1f2" stroke="#cde1f2" stroke-width="1"/><polygon points="245,714 274,714 263,787" fill="#c0daed" stroke="#c0daed" stroke-width="1"/><polygon points="245,714 263,787 194,771" fill="#c5ddf0" stroke="#c5ddf0" stroke-width="1"/><polygon points="274,714 344,735 306,795" fill="#b9d8ec" stroke="#b9d8ec" stroke-width="1"/><polygon points="274,714 306,795 263,787" fill="#bedaed" stroke="#bedaed" stroke-width="1"/><polygon points="344,735 379,725 359,779" fill="#b0d3e8" stroke="#b0d3e8" stroke-width="1"/><polygon points="344,735 359,779 306,795" fill="#b5d5ea" stroke="#b5d5ea" stroke-width="1"/><polygon points="379,725 453,731 403,796" fill="#a9d0e7" stroke="#a9d0e7" stroke-width="1"/><polygon points="379,725 403,796 359,779" fill="#add1e7" stroke="#add1e7" stroke-width="1"/><polygon points="453,731 480,719 456,794" fill="#9ecae3" stroke="#9ecae3" stroke-width="1"/><polygon points="453,731 456,794 403,796" fill="#a2cce4" stroke="#a2cce4" stroke-width="1"/><polygon points="480,719 534,715 521,782" fill="#95c7e2" stroke="#95c7e2" stroke-width="1"/><polygon points="480,719 521,782 456,794" fill="#98c7e1" stroke="#98c7e1" stroke-width="1"/><polygon points="534,715 595,713 574,772" fill="#89c0de" stroke="#89c0de" stroke-width="1"/><polygon points="534,715 574,772 521,782" fill="#8cc1de" stroke="#8cc1de" stroke-width="1"/><polygon points="595,713 664,726 638,797" fill="#7bb7da" stroke="#7bb7da" stroke-width="1"/><polygon points="595,713 638,797 574,772" fill="#82bddd" stroke="#82bddd" stroke-width="1"/><polygon points="664,726 702,733 687,783" fill="#71b2d9" stroke="#71b2d9" stroke-width="1"/><polygon points="664,726 687,783 638,797" fill="#74b3d8" stroke="#74b3d8" stroke-width="1"/><polygon points="702,733 763,739 715,791" fill="#67abd5" stroke="#67abd5" stroke-width="1"/><polygon points="702,733 715,791 687,783" fill="#6fb1d9" stroke="#6fb1d9" stroke-width="1"/><polygon points="763,739 802,722 773,793" fill="#5ea6d3" stroke="#5ea6d3" stroke-width="1"/><polygon points="763,739 773,793 715,791" fill="#65abd6" stroke="#65abd6" stroke-width="1"/><polygon points="802,722 855,712 823,783" fill="#55a0d0" stroke="#55a0d0" stroke-width="1"/><polygon points="802,722 823,783 773,793" fill="#5ba5d4" stroke="#5ba5d4" stroke-width="1"/><polygon points="855,712 907,735 895,769" fill="#4c98cc" stroke="#4c98cc" stroke-width="1"/><polygon points="855,712 895,769 823,783" fill="#539ed0" stroke="#539ed0" stroke-width="1"/><polygon points="907,735 978,738 938,766" fill="#4591c9" stroke="#4591c9" stroke-width="1"/><polygon points="907,735 938,766 895,769" fill="#4793c9" stroke="#4793c9" stroke-width="1"/><polygon points="978,738 1019,732 972,769" fill="#3b88c3" stroke="#3b88c3" stroke-width="1"/><polygon points="978,738 972,769 938,766" fill="#3e8bc4" stroke="#3e8bc4" stroke-width="1"/><polygon points="1019,732 1050,722 1057,795" fill="#3683c1" stroke="#3683c1" stroke-width="1"/><polygon points="1019,732 1057,795 972,769" fill="#3583bf" stroke="#3583bf" stroke-width="1"/><polygon points="1050,722 1113,733 1097,773" fill="#2f7cbb" stroke="#2f7cbb" stroke-width="1"/><polygon points="1050,722 1097,773 1057,795" fill="#3481bf" stroke="#3481bf" stroke-width="1"/><polygon points="1113,733 1157,724 1150,788" fill="#2875b7" stroke="#2875b7" stroke-width="1"/><polygon points="1113,733 1150,788 1097,773" fill="#2d7abb" stroke="#2d7abb" stroke-width="1"/><polygon points="1157,724 1222,738 1192,783" fill="#2571b6" stroke="#2571b6" stroke-width="1"/><polygon points="1157,724 1192,783 1150,788" fill="#2874b7" stroke="#2874b7" stroke-width="1"/><polygon points="1222,738 1285,732 1258,764" fill="#1e67ae" stroke="#1e67ae" stroke-width="1"/><polygon points="1222,738 1258,764 1192,783" fill="#206bb0" stroke="#206bb0" stroke-width="1"/><polygon points="1285,732 1314,737 1290,779" fill="#1e65ac" stroke="#1e65ac" stroke-width="1"/><polygon points="1285,732 1290,779 1258,764" fill="#1e66ad" stroke="#1e66ad" stroke-width="1"/><polygon points="1314,737 1392,730 1340,776" fill="#195ca6" stroke="#195ca6" stroke-width="1"/><polygon points="1314,737 1340,776 1290,779" fill="#175da5" stroke="#175da5" stroke-width="1"/><polygon points="1392,730 1425,728 1406,769" fill="#1759a2" stroke="#1759a2" stroke-width="1"/><polygon points="1392,730 1406,769 1340,776" fill="#1457a1" stroke="#1457a1" stroke-width="1"/><polygon points="-64,787 17,781 -25,824" fill="#e1ecf7" stroke="#e1ecf7" stroke-width="1"/><polygon points="17,781 28,826 -25,824" fill="#dfecf7" stroke="#dfecf7" stroke-width="1"/><polygon points="17,781 59,791 28,826" fill="#ddeaf6" stroke="#ddeaf6" stroke-width="1"/><polygon points="59,791 83,816 28,826" fill="#d9e8f5" stroke="#d9e8f5" stroke-width="1"/><polygon points="59,791 94,795 83,816" fill="#d8e8f6" stroke="#d8e8f6" stroke-width="1"/><polygon points="94,795 136,820 83,816" fill="#d5e6f5" stroke="#d5e6f5" stroke-width="1"/><polygon points="94,795 160,770 136,820" fill="#d3e5f5" stroke="#d3e5f5" stroke-width="1"/><polygon points="160,770 198,835 136,820" fill="#d0e3f4" stroke="#d0e3f4" stroke-width="1"/><polygon points="160,770 194,771 198,835" fill="#cde1f3" stroke="#cde1f3" stroke-width="1"/><polygon points="194,771 233,829 198,835" fill="#c9dff1" stroke="#c9dff1" stroke-width="1"/><polygon points="194,771 263,787 233,829" fill="#c7dff2" stroke="#c7dff2" stroke-width="1"/><polygon points="263,787 290,838 233,829" fill="#c1dcef" stroke="#c1dcef" stroke-width="1"/><polygon points="263,787 306,795 290,838" fill="#bcd8ec" stroke="#bcd8ec" stroke-width="1"/><polygon points="306,795 347,841 290,838" fill="#b9d8ec" stroke="#b9d8ec" stroke-width="1"/><polygon points="306,795 359,779 347,841" fill="#b5d6ea" stroke="#b5d6ea" stroke-width="1"/><polygon points="359,779 390,849 347,841" fill="#afd2e7" stroke="#afd2e7" stroke-width="1"/><polygon points="359,779 403,796 390,849" fill="#acd0e6" stroke="#acd0e6" stroke-width="1"/><polygon points="403,796 454,844 390,849" fill="#a5cde4" stroke="#a5cde4" stroke-width="1"/><polygon points="403,796 456,794 454,844" fill="#a3cce4" stroke="#a3cce4" stroke-width="1"/><polygon points="456,794 491,830 454,844" fill="#9cc8e2" stroke="#9cc8e2" stroke-width="1"/><polygon points="456,794 521,782 491,830" fill="#97c6e1" stroke="#97c6e1" stroke-width="1"/><polygon points="521,782 548,846 491,830" fill="#91c3df" stroke="#91c3df" stroke-width="1"/><polygon points="521,782 574,772 548,846" fill="#8bc0dd" stroke="#8bc0dd" stroke-width="1"/><polygon points="574,772 599,833 548,846" fill="#87bfdd" stroke="#87bfdd" stroke-width="1"/><polygon points="574,772 638,797 599,833" fill="#80bbdb" stroke="#80bbdb" stroke-width="1"/><polygon points="638,797 648,846 599,833" fill="#7bb8da" stroke="#7bb8da" stroke-width="1"/><polygon points="638,797 687,783 648,846" fill="#76b4d9" stroke="#76b4d9" stroke-width="1"/><polygon points="687,783 696,817 648,846" fill="#73b3d9" stroke="#73b3d9" stroke-width="1"/><polygon points="687,783 715,791 696,817" fill="#70b2d9" stroke="#70b2d9" stroke-width="1"/><polygon points="715,791 762,846 696,817" fill="#68acd5" stroke="#68acd5" stroke-width="1"/><polygon points="715,791 773,793 762,846" fill="#66acd7" stroke="#66acd7" stroke-width="1"/><polygon points="773,793 814,835 762,846" fill="#5fa8d5" stroke="#5fa8d5" stroke-width="1"/><polygon points="773,793 823,783 814,835" fill="#5aa4d3" stroke="#5aa4d3" stroke-width="1"/><polygon points="823,783 867,825 814,835" fill="#549fd0" stroke="#549fd0" stroke-width="1"/><polygon points="823,783 895,769 867,825" fill="#519ccf" stroke="#519ccf" stroke-width="1"/><polygon points="895,769 913,817 867,825" fill="#4b97cb" stroke="#4b97cb" stroke-width="1"/><polygon points="895,769 938,766 913,817" fill="#4894ca" stroke="#4894ca" stroke-width="1"/><polygon points="938,766 949,830 913,817" fill="#4693ca" stroke="#4693ca" stroke-width="1"/><polygon points="938,766 972,769 949,830" fill="#428fc7" stroke="#428fc7" stroke-width="1"/><polygon points="972,769 1014,828 949,830" fill="#3b89c3" stroke="#3b89c3" stroke-width="1"/><polygon points="972,769 1057,795 1014,828" fill="#3583bf" stroke="#3583bf" stroke-width="1"/><polygon points="1057,795 1051,839 1014,828" fill="#3784c1" stroke="#3784c1" stroke-width="1"/><polygon points="1057,795 1097,773 1051,839" fill="#317ebd" stroke="#317ebd" stroke-width="1"/><polygon points="1097,773 1119,823 1051,839" fill="#317ebe" stroke="#317ebe" stroke-width="1"/><polygon points="1097,773 1150,788 1119,823" fill="#2b78b9" stroke="#2b78b9" stroke-width="1"/><polygon points="1150,788 1163,828 1119,823" fill="#2a76b8" stroke="#2a76b8" stroke-width="1"/><polygon points="1150,788 1192,783 1163,828" fill="#2773b6" stroke="#2773b6" stroke-width="1"/><polygon points="1192,783 1213,817 1163,828" fill="#2672b7" stroke="#2672b7" stroke-width="1"/><polygon points="1192,783 1258,764 1213,817" fill="#246fb5" stroke="#246fb5" stroke-width="1"/><polygon points="1258,764 1288,848 1213,817" fill="#1f68af" stroke="#1f68af" stroke-width="1"/><polygon points="1258,764 1290,779 1288,848" fill="#1d65ac" stroke="#1d65ac" stroke-width="1"/><polygon points="1290,779 1332,844 1288,848" fill="#1a60a8" stroke="#1a60a8" stroke-width="1"/><polygon points="1290,779 1340,776 1332,844" fill="#185da5" stroke="#185da5" stroke-width="1"/><polygon points="1340,776 1375,842 1332,844" fill="#195da6" stroke="#195da6" stroke-width="1"/><polygon points="1340,776 1406,769 1375,842" fill="#1457a0" stroke="#1457a0" stroke-width="1"/><polygon points="1406,769 1421,840 1375,842" fill="#185aa4" stroke="#185aa4" stroke-width="1"/><polygon points="-25,824 28,826 -14,894" fill="#e1edf7" stroke="#e1edf7" stroke-width="1"/><polygon points="-25,824 -14,894 -50,898" fill="#e1ecf7" stroke="#e1ecf7" stroke-width="1"/><polygon points="28,826 83,816 39,885" fill="#dceaf7" stroke="#dceaf7" stroke-width="1"/><polygon points="28,826 39,885 -14,894" fill="#ddeaf6" stroke="#ddeaf6" stroke-width="1"/><polygon points="83,816 136,820 119,867" fill="#d4e5f4" stroke="#d4e5f4" stroke-width="1"/><polygon points="83,816 119,867 39,885" fill="#d7e6f4" stroke="#d7e6f4" stroke-width="1"/><polygon points="136,820 198,835 147,877" fill="#d1e4f4" stroke="#d1e4f4" stroke-width="1"/><polygon points="136,820 147,877 119,867" fill="#d1e3f3" stroke="#d1e3f3" stroke-width="1"/><polygon points="198,835 233,829 202,869" fill="#cae0f2" stroke="#cae0f2" stroke-width="1"/><polygon points="198,835 202,869 147,877" fill="#cce0f1" stroke="#cce0f1" stroke-width="1"/><polygon points="233,829 290,838 273,895" fill="#c1dbef" stroke="#c1dbef" stroke-width="1"/><polygon points="233,829 273,895 202,869" fill="#c4dcef" stroke="#c4dcef" stroke-width="1"/><polygon points="290,838 347,841 309,879" fill="#b6d5ea" stroke="#b6d5ea" stroke-width="1"/><polygon points="290,838 309,879 273,895" fill="#bcd9ed" stroke="#bcd9ed" stroke-width="1"/><polygon points="347,841 390,849 367,869" fill="#b1d4ea" stroke="#b1d4ea" stroke-width="1"/><polygon points="347,841 367,869 309,879" fill="#b4d5ea" stroke="#b4d5ea" stroke-width="1"/><polygon points="390,849 454,844 400,898" fill="#a8d0e6" stroke="#a8d0e6" stroke-width="1"/><polygon points="390,849 400,898 367,869" fill="#add2e8" stroke="#add2e8" stroke-width="1"/><polygon points="454,844 491,830 461,884" fill="#9cc9e3" stroke="#9cc9e3" stroke-width="1"/><polygon points="454,844 461,884 400,898" fill="#a1cbe3" stroke="#a1cbe3" stroke-width="1"/><polygon points="491,830 548,846 535,900" fill="#91c4e0" stroke="#91c4e0" stroke-width="1"/><polygon points="491,830 535,900 461,884" fill="#96c5e0" stroke="#96c5e0" stroke-width="1"/><polygon points="548,846 599,833 571,874" fill="#88bfdd" stroke="#88bfdd" stroke-width="1"/><polygon points="548,846 571,874 535,900" fill="#8bc0de" stroke="#8bc0de" stroke-width="1"/><polygon points="599,833 648,846 617,898" fill="#7eb9db" stroke="#7eb9db" stroke-width="1"/><polygon points="599,833 617,898 571,874" fill="#82bbdb" stroke="#82bbdb" stroke-width="1"/><polygon points="648,846 696,817 689,874" fill="#73b4d9" stroke="#73b4d9" stroke-width="1"/><polygon points="648,846 689,874 617,898" fill="#77b6d9" stroke="#77b6d9" stroke-width="1"/><polygon points="696,817 762,846 739,879" fill="#67acd6" stroke="#67acd6" stroke-width="1"/><polygon points="696,817 739,879 689,874" fill="#6badd5" stroke="#6badd5" stroke-width="1"/><polygon points="762,846 814,835 779,873" fill="#5da6d4" stroke="#5da6d4" stroke-width="1"/><polygon points="762,846 779,873 739,879" fill="#62a9d5" stroke="#62a9d5" stroke-width="1"/><polygon points="814,835 867,825 845,901" fill="#55a0d2" stroke="#55a0d2" stroke-width="1"/><polygon points="814,835 845,901 779,873" fill="#58a2d2" stroke="#58a2d2" stroke-width="1"/><polygon points="867,825 913,817 874,889" fill="#4a96ca" stroke="#4a96ca" stroke-width="1"/><polygon points="867,825 874,889 845,901" fill="#4f9acd" stroke="#4f9acd" stroke-width="1"/><polygon points="913,817 949,830 926,897" fill="#4490c7" stroke="#4490c7" stroke-width="1"/><polygon points="913,817 926,897 874,889" fill="#4a96cb" stroke="#4a96cb" stroke-width="1"/><polygon points="949,830 1014,828 973,871" fill="#3f8cc6" stroke="#3f8cc6" stroke-width="1"/><polygon points="949,830 973,871 926,897" fill="#4491c9" stroke="#4491c9" stroke-width="1"/><polygon points="1014,828 1051,839 1048,878" fill="#3785c2" stroke="#3785c2" stroke-width="1"/><polygon points="1014,828 1048,878 973,871" fill="#3a88c3" stroke="#3a88c3" stroke-width="1"/><polygon points="1051,839 1119,823 1106,897" fill="#317ebe" stroke="#317ebe" stroke-width="1"/><polygon points="1051,839 1106,897 1048,878" fill="#3481c0" stroke="#3481c0" stroke-width="1"/><polygon points="1119,823 1163,828 1151,872" fill="#2774b6" stroke="#2774b6" stroke-width="1"/><polygon points="1119,823 1151,872 1106,897" fill="#2c79ba" stroke="#2c79ba" stroke-width="1"/><polygon points="1163,828 1213,817 1203,899" fill="#2571b6" stroke="#2571b6" stroke-width="1"/><polygon points="1163,828 1203,899 1151,872" fill="#2874b8" stroke="#2874b8" stroke-width="1"/><polygon points="1213,817 1288,848 1246,870" fill="#206ab0" stroke="#206ab0" stroke-width="1"/><polygon points="1213,817 1246,870 1203,899" fill="#236eb3" stroke="#236eb3" stroke-width="1"/><polygon points="1288,848 1332,844 1291,877" fill="#1d63ab" stroke="#1d63ab" stroke-width="1"/><polygon points="1288,848 1291,877 1246,870" fill="#1b63aa" stroke="#1b63aa" stroke-width="1"/><polygon points="1332,844 1375,842 1359,874" fill="#175ba4" stroke="#175ba4" stroke-width="1"/><polygon points="1332,844 1359,874 1291,877" fill="#1b60a9" stroke="#1b60a9" stroke-width="1"/><polygon points="1375,842 1421,840 1393,875" fill="#13559f" stroke="#13559f" stroke-width="1"/><polygon points="1375,842 1393,875 1359,874" fill="#1457a0" stroke="#1457a0" stroke-width="1"/><polygon points="-50,898 -14,894 -20,946" fill="#e3eef8" stroke="#e3eef8" stroke-width="1"/><polygon points="-14,894 22,942 -20,946" fill="#e1edf8" stroke="#e1edf8" stroke-width="1"/><polygon points="-14,894 39,885 22,942" fill="#ddeaf5" stroke="#ddeaf5" stroke-width="1"/><polygon points="39,885 91,939 22,942" fill="#dae8f5" stroke="#dae8f5" stroke-width="1"/><polygon points="39,885 119,867 91,939" fill="#d8e8f6" stroke="#d8e8f6" stroke-width="1"/><polygon points="119,867 121,929 91,939" fill="#d5e6f5" stroke="#d5e6f5" stroke-width="1"/><polygon points="119,867 147,877 121,929" fill="#d3e4f4" stroke="#d3e4f4" stroke-width="1"/><polygon points="147,877 197,942 121,929" fill="#d0e3f3" stroke="#d0e3f3" stroke-width="1"/><polygon points="147,877 202,869 197,942" fill="#cee2f3" stroke="#cee2f3" stroke-width="1"/><polygon points="202,869 226,941 197,942" fill="#cbe0f2" stroke="#cbe0f2" stroke-width="1"/><polygon points="202,869 273,895 226,941" fill="#c4dcef" stroke="#c4dcef" stroke-width="1"/><polygon points="273,895 272,952 226,941" fill="#c0daed" stroke="#c0daed" stroke-width="1"/><polygon points="273,895 309,879 272,952" fill="#bedaee" stroke="#bedaee" stroke-width="1"/><polygon points="309,879 336,937 272,952" fill="#bbd9ed" stroke="#bbd9ed" stroke-width="1"/><polygon points="309,879 367,869 336,937" fill="#b5d6eb" stroke="#b5d6eb" stroke-width="1"/><polygon points="367,869 391,921 336,937" fill="#b0d3e8" stroke="#b0d3e8" stroke-width="1"/><polygon points="367,869 400,898 391,921" fill="#acd1e6" stroke="#acd1e6" stroke-width="1"/><polygon points="400,898 445,929 391,921" fill="#a7cee5" stroke="#a7cee5" stroke-width="1"/><polygon points="400,898 461,884 445,929" fill="#a1cbe3" stroke="#a1cbe3" stroke-width="1"/><polygon points="461,884 486,946 445,929" fill="#9ecbe4" stroke="#9ecbe4" stroke-width="1"/><polygon points="461,884 535,900 486,946" fill="#96c6e0" stroke="#96c6e0" stroke-width="1"/><polygon points="535,900 532,929 486,946" fill="#93c5e0" stroke="#93c5e0" stroke-width="1"/><polygon points="535,900 571,874 532,929" fill="#8dc1df" stroke="#8dc1df" stroke-width="1"/><polygon points="571,874 607,927 532,929" fill="#87bedd" stroke="#87bedd" stroke-width="1"/><polygon points="571,874 617,898 607,927" fill="#83bddd" stroke="#83bddd" stroke-width="1"/><polygon points="617,898 642,938 607,927" fill="#7db9db" stroke="#7db9db" stroke-width="1"/><polygon points="617,898 689,874 642,938" fill="#77b5d9" stroke="#77b5d9" stroke-width="1"/><polygon points="689,874 691,949 642,938" fill="#75b5da" stroke="#75b5da" stroke-width="1"/><polygon points="689,874 739,879 691,949" fill="#6baed6" stroke="#6baed6" stroke-width="1"/><polygon points="739,879 771,920 691,949" fill="#66abd5" stroke="#66abd5" stroke-width="1"/><polygon points="739,879 779,873 771,920" fill="#60a7d4" stroke="#60a7d4" stroke-width="1"/><polygon points="779,873 805,945 771,920" fill="#5da6d4" stroke="#5da6d4" stroke-width="1"/><polygon points="779,873 845,901 805,945" fill="#5aa4d3" stroke="#5aa4d3" stroke-width="1"/><polygon points="845,901 854,951 805,945" fill="#549ecf" stroke="#549ecf" stroke-width="1"/><polygon points="845,901 874,889 854,951" fill="#4f9acd" stroke="#4f9acd" stroke-width="1"/><polygon points="874,889 910,925 854,951" fill="#4e99cd" stroke="#4e99cd" stroke-width="1"/><polygon points="874,889 926,897 910,925" fill="#4894c9" stroke="#4894c9" stroke-width="1"/><polygon points="926,897 964,941 910,925" fill="#4491c8" stroke="#4491c8" stroke-width="1"/><polygon points="926,897 973,871 964,941" fill="#3f8cc5" stroke="#3f8cc5" stroke-width="1"/><polygon points="973,871 1009,941 964,941" fill="#3e8bc5" stroke="#3e8bc5" stroke-width="1"/><polygon points="973,871 1048,878 1009,941" fill="#3684c0" stroke="#3684c0" stroke-width="1"/><polygon points="1048,878 1076,937 1009,941" fill="#3381be" stroke="#3381be" stroke-width="1"/><polygon points="1048,878 1106,897 1076,937" fill="#307dbc" stroke="#307dbc" stroke-width="1"/><polygon points="1106,897 1118,948 1076,937" fill="#2e7bbb" stroke="#2e7bbb" stroke-width="1"/><polygon points="1106,897 1151,872 1118,948" fill="#2d7abb" stroke="#2d7abb" stroke-width="1"/><polygon points="1151,872 1176,937 1118,948" fill="#2a77b9" stroke="#2a77b9" stroke-width="1"/><polygon points="1151,872 1203,899 1176,937" fill="#2874b8" stroke="#2874b8" stroke-width="1"/><polygon points="1203,899 1237,925 1176,937" fill="#246fb5" stroke="#246fb5" stroke-width="1"/><polygon points="1203,899 1246,870 1237,925" fill="#1f6aaf" stroke="#1f6aaf" stroke-width="1"/><polygon points="1246,870 1284,925 1237,925" fill="#2069b0" stroke="#2069b0" stroke-width="1"/><polygon points="1246,870 1291,877 1284,925" fill="#1c64ab" stroke="#1c64ab" stroke-width="1"/><polygon points="1291,877 1330,927 1284,925" fill="#1960a8" stroke="#1960a8" stroke-width="1"/><polygon points="1291,877 1359,874 1330,927" fill="#185da6" stroke="#185da6" stroke-width="1"/><polygon points="1359,874 1376,945 1330,927" fill="#195da6" stroke="#195da6" stroke-width="1"/><polygon points="1359,874 1393,875 1376,945" fill="#1558a2" stroke="#1558a2" stroke-width="1"/><polygon points="1393,875 1440,946 1376,945" fill="#1457a0" stroke="#1457a0" stroke-width="1"/></svg>
<div id="top"></div><div id="frame"></div>
<div class="node" style="left:21px;top:34px">
<div class="hd" style="background:#3598dc">
<div class="t" style="left:10px;top:11.26px;font-size:18px;color:#fff;letter-spacing:-0.15px;-webkit-text-stroke:0.22px #3598dc;">1.Start</div>
<div class="t sub" style="left:10px;top:45.04px;letter-spacing:-0.2px;-webkit-text-stroke:0.22px #3598dc">Start<svg class="rf" width="12.3" height="12.3" viewBox="0 0 1792 1792"><path fill="#fff" d="M1639 1056q0 5-1 7-64 268-268 434.5t-478 166.5q-146 0-282.5-55t-243.5-157l-129 129q-19 19-45 19t-45-19-19-45v-448q0-26 19-45t45-19h448q26 0 45 19t19 45-19 45l-137 137q71 66 161 102t187 36q134 0 250-65t186-179q11-17 53-117 8-23 30-23h192q13 0 22.5 9.5t9.5 22.5zm25-800v448q0 26-19 45t-45 19h-448q-26 0-45-19t-19-45 19-45l138-138q-148-137-349-137-134 0-250 65t-186 179q-11 17-53 117-8 23-30 23h-199q-13 0-22.5-9.5t-9.5-22.5v-7q65-268 270-434.5t480-166.5q146 0 284 55.5t245 156.5l130-129q19-19 45-19t45 19 19 45z"/></svg></div>
<svg class="ic" style="left:268.3px;top:19.6px" width="24.2" height="24.2" viewBox="0 0 1792 1792"><path fill="#fff" d="M1490 1322q0 40-28 68l-136 136q-28 28-68 28t-68-28l-294-294-294 294q-28 28-68 28t-68-28l-136-136q-28-28-28-68t28-68l294-294-294-294q-28-28-28-68t28-68l136-136q28-28 68-28t68 28l294 294 294-294q28-28 68-28t68 28l136 136q28 28 28 68t-28 68l-294 294 294 294q28 28 28 68z"/></svg>
</div>
<div class="row">
<div class="t" style="left:5px;top:8.25px;font-size:14px;color:#333333;letter-spacing:0.25px;">Start</div>
<div class="gd"></div>
<svg class="ic" style="left:281px;top:7.7px" width="14" height="14" viewBox="0 0 1664 1792"><path fill="#2b2b2b" d="M1520 1216q0-40-28-68l-208-208q-28-28-68-28-42 0-72 32 3 3 19 18.5t21.5 21.5 15 19 13 25.5 3.5 27.5q0 40-28 68t-68 28q-15 0-27.5-3.5t-25.5-13-19-15-21.5-21.5-18.5-19q-33 31-33 73 0 40 28 68l206 207q27 27 68 27 40 0 68-26l147-146q28-28 28-67zm-703-705q0-40-28-68l-206-207q-28-28-68-28-39 0-68 27l-147 146q-28 28-28 67 0 40 28 68l208 208q27 27 68 27 42 0 72-31-3-3-19-18.5t-21.5-21.5-15-19-13-25.5-3.5-27.5q0-40 28-68t68-28q15 0 27.5 3.5t25.5 13 19 15 21.5 21.5 18.5 19q33-31 33-73zm895 705q0 120-85 203l-147 146q-83 83-203 83-121 0-204-85l-206-207q-83-83-83-203 0-123 88-209l-88-88q-86 88-208 88-120 0-204-84l-208-208q-84-84-84-204t85-203l147-146q83-83 203-83 121 0 204 85l206 207q83 83 83 203 0 123-88 209l88 88q86-88 208-88 120 0 204 84l208 208q84 84 84 204z"/></svg>
</div>
<div class="row">
<div class="t" style="left:5px;top:8.25px;font-size:14px;color:#333333;letter-spacing:0.19px;">Blacklist</div>
<div class="gd"></div>
<svg class="ic" style="left:281px;top:7.7px" width="14" height="14" viewBox="0 0 1664 1792"><path fill="#2b2b2b" d="M1520 1216q0-40-28-68l-208-208q-28-28-68-28-42 0-72 32 3 3 19 18.5t21.5 21.5 15 19 13 25.5 3.5 27.5q0 40-28 68t-68 28q-15 0-27.5-3.5t-25.5-13-19-15-21.5-21.5-18.5-19q-33 31-33 73 0 40 28 68l206 207q27 27 68 27 40 0 68-26l147-146q28-28 28-67zm-703-705q0-40-28-68l-206-207q-28-28-68-28-39 0-68 27l-147 146q-28 28-28 67 0 40 28 68l208 208q27 27 68 27 42 0 72-31-3-3-19-18.5t-21.5-21.5-15-19-13-25.5-3.5-27.5q0-40 28-68t68-28q15 0 27.5 3.5t25.5 13 19 15 21.5 21.5 18.5 19q33-31 33-73zm895 705q0 120-85 203l-147 146q-83 83-203 83-121 0-204-85l-206-207q-83-83-83-203 0-123 88-209l-88-88q-86 88-208 88-120 0-204-84l-208-208q-84-84-84-204t85-203l147-146q83-83 203-83 121 0 204 85l206 207q83 83 83 203 0 123-88 209l88 88q86-88 208-88 120 0 204 84l208 208q84 84 84 204z"/></svg>
</div>
</div>
<div class="node" style="left:371px;top:64px">
<div class="hd" style="background:#8e44ad">
<div class="t" style="left:10px;top:11.26px;font-size:18px;color:#fff;-webkit-text-stroke:0.22px #8e44ad;">3.Ukraine</div>
<div class="t sub" style="left:10px;top:45.04px;letter-spacing:-0.1px;-webkit-text-stroke:0.22px #8e44ad">Number check<svg class="rf" width="12.3" height="12.3" viewBox="0 0 1792 1792"><path fill="#fff" d="M1639 1056q0 5-1 7-64 268-268 434.5t-478 166.5q-146 0-282.5-55t-243.5-157l-129 129q-19 19-45 19t-45-19-19-45v-448q0-26 19-45t45-19h448q26 0 45 19t19 45-19 45l-137 137q71 66 161 102t187 36q134 0 250-65t186-179q11-17 53-117 8-23 30-23h192q13 0 22.5 9.5t9.5 22.5zm25-800v448q0 26-19 45t-45 19h-448q-26 0-45-19t-19-45 19-45l138-138q-148-137-349-137-134 0-250 65t-186 179q-11 17-53 117-8 23-30 23h-199q-13 0-22.5-9.5t-9.5-22.5v-7q65-268 270-434.5t480-166.5q146 0 284 55.5t245 156.5l130-129q19-19 45-19t45 19 19 45z"/></svg></div>
<svg class="ic" style="left:268.3px;top:19.6px" width="24.2" height="24.2" viewBox="0 0 1792 1792"><path fill="#fff" d="M1490 1322q0 40-28 68l-136 136q-28 28-68 28t-68-28l-294-294-294 294q-28 28-68 28t-68-28l-136-136q-28-28-28-68t28-68l294-294-294-294q-28-28-28-68t28-68l136-136q28-28 68-28t68 28l294 294 294-294q28-28 68-28t68 28l136 136q28 28 28 68t-28 68l-294 294 294 294q28 28 28 68z"/></svg>
</div>
<div class="row">
<div class="t" style="left:5px;top:8.25px;font-size:14px;color:#333333;letter-spacing:0.18px;">Suitable</div>
<div class="gd"></div>
<svg class="ic" style="left:281px;top:7.7px" width="14" height="14" viewBox="0 0 1664 1792"><path fill="#2b2b2b" d="M1520 1216q0-40-28-68l-208-208q-28-28-68-28-42 0-72 32 3 3 19 18.5t21.5 21.5 15 19 13 25.5 3.5 27.5q0 40-28 68t-68 28q-15 0-27.5-3.5t-25.5-13-19-15-21.5-21.5-18.5-19q-33 31-33 73 0 40 28 68l206 207q27 27 68 27 40 0 68-26l147-146q28-28 28-67zm-703-705q0-40-28-68l-206-207q-28-28-68-28-39 0-68 27l-147 146q-28 28-28 67 0 40 28 68l208 208q27 27 68 27 42 0 72-31-3-3-19-18.5t-21.5-21.5-15-19-13-25.5-3.5-27.5q0-40 28-68t68-28q15 0 27.5 3.5t25.5 13 19 15 21.5 21.5 18.5 19q33-31 33-73zm895 705q0 120-85 203l-147 146q-83 83-203 83-121 0-204-85l-206-207q-83-83-83-203 0-123 88-209l-88-88q-86 88-208 88-120 0-204-84l-208-208q-84-84-84-204t85-203l147-146q83-83 203-83 121 0 204 85l206 207q83 83 83 203 0 123-88 209l88 88q86-88 208-88 120 0 204 84l208 208q84 84 84 204z"/></svg>
</div>
<div class="row">
<div class="t" style="left:5px;top:8.25px;font-size:14px;color:#333333;letter-spacing:0.4px;">Not suitable</div>
<div class="gd"></div>
<svg class="ic" style="left:281px;top:7.7px" width="14" height="14" viewBox="0 0 1664 1792"><path fill="#2b2b2b" d="M1520 1216q0-40-28-68l-208-208q-28-28-68-28-42 0-72 32 3 3 19 18.5t21.5 21.5 15 19 13 25.5 3.5 27.5q0 40-28 68t-68 28q-15 0-27.5-3.5t-25.5-13-19-15-21.5-21.5-18.5-19q-33 31-33 73 0 40 28 68l206 207q27 27 68 27 40 0 68-26l147-146q28-28 28-67zm-703-705q0-40-28-68l-206-207q-28-28-68-28-39 0-68 27l-147 146q-28 28-28 67 0 40 28 68l208 208q27 27 68 27 42 0 72-31-3-3-19-18.5t-21.5-21.5-15-19-13-25.5-3.5-27.5q0-40 28-68t68-28q15 0 27.5 3.5t25.5 13 19 15 21.5 21.5 18.5 19q33-31 33-73zm895 705q0 120-85 203l-147 146q-83 83-203 83-121 0-204-85l-206-207q-83-83-83-203 0-123 88-209l-88-88q-86 88-208 88-120 0-204-84l-208-208q-84-84-84-204t85-203l147-146q83-83 203-83 121 0 204 85l206 207q83 83 83 203 0 123-88 209l88 88q86-88 208-88 120 0 204 84l208 208q84 84 84 204z"/></svg>
</div>
<div class="row">
<div class="t" style="left:5px;top:8.25px;font-size:14px;color:#333333;letter-spacing:0.4px;">Error</div>
<svg class="ic" style="left:281px;top:7.7px" width="14" height="14" viewBox="0 0 1664 1792"><path fill="#2b2b2b" d="M1520 1216q0-40-28-68l-208-208q-28-28-68-28-42 0-72 32 3 3 19 18.5t21.5 21.5 15 19 13 25.5 3.5 27.5q0 40-28 68t-68 28q-15 0-27.5-3.5t-25.5-13-19-15-21.5-21.5-18.5-19q-33 31-33 73 0 40 28 68l206 207q27 27 68 27 40 0 68-26l147-146q28-28 28-67zm-703-705q0-40-28-68l-206-207q-28-28-68-28-39 0-68 27l-147 146q-28 28-28 67 0 40 28 68l208 208q27 27 68 27 42 0 72-31-3-3-19-18.5t-21.5-21.5-15-19-13-25.5-3.5-27.5q0-40 28-68t68-28q15 0 27.5 3.5t25.5 13 19 15 21.5 21.5 18.5 19q33-31 33-73zm895 705q0 120-85 203l-147 146q-83 83-203 83-121 0-204-85l-206-207q-83-83-83-203 0-123 88-209l-88-88q-86 88-208 88-120 0-204-84l-208-208q-84-84-84-204t85-203l147-146q83-83 203-83 121 0 204 85l206 207q83 83 83 203 0 123-88 209l88 88q86-88 208-88 120 0 204 84l208 208q84 84 84 204z"/></svg>
</div>
</div>
<div class="node" style="left:746px;top:109px">
<div class="hd" style="background:#3598dc">
<div class="t" style="left:10px;top:11.26px;font-size:18px;color:#fff;letter-spacing:-0.02px;-webkit-text-stroke:0.22px #3598dc;">5.Queue:Ukraine</div>
<div class="t sub" style="left:10px;top:45.04px;letter-spacing:-0.1px;-webkit-text-stroke:0.22px #3598dc">Queue<svg class="rf" width="12.3" height="12.3" viewBox="0 0 1792 1792"><path fill="#fff" d="M1639 1056q0 5-1 7-64 268-268 434.5t-478 166.5q-146 0-282.5-55t-243.5-157l-129 129q-19 19-45 19t-45-19-19-45v-448q0-26 19-45t45-19h448q26 0 45 19t19 45-19 45l-137 137q71 66 161 102t187 36q134 0 250-65t186-179q11-17 53-117 8-23 30-23h192q13 0 22.5 9.5t9.5 22.5zm25-800v448q0 26-19 45t-45 19h-448q-26 0-45-19t-19-45 19-45l138-138q-148-137-349-137-134 0-250 65t-186 179q-11 17-53 117-8 23-30 23h-199q-13 0-22.5-9.5t-9.5-22.5v-7q65-268 270-434.5t480-166.5q146 0 284 55.5t245 156.5l130-129q19-19 45-19t45 19 19 45z"/></svg></div>
<svg class="ic" style="left:268.3px;top:19.6px" width="24.2" height="24.2" viewBox="0 0 1792 1792"><path fill="#fff" d="M1490 1322q0 40-28 68l-136 136q-28 28-68 28t-68-28l-294-294-294 294q-28 28-68 28t-68-28l-136-136q-28-28-28-68t28-68l294-294-294-294q-28-28-28-68t28-68l136-136q28-28 68-28t68 28l294 294 294-294q28-28 68-28t68 28l136 136q28 28 28 68t-28 68l-294 294 294 294q28 28 28 68z"/></svg>
</div>
<div class="row">
<div class="t" style="left:5px;top:8.25px;font-size:14px;color:#333333;letter-spacing:0.14px;">There is an agent</div>
<div class="gd"></div>
<svg class="ic" style="left:281px;top:7.7px" width="14" height="14" viewBox="0 0 1664 1792"><path fill="#2b2b2b" d="M1520 1216q0-40-28-68l-208-208q-28-28-68-28-42 0-72 32 3 3 19 18.5t21.5 21.5 15 19 13 25.5 3.5 27.5q0 40-28 68t-68 28q-15 0-27.5-3.5t-25.5-13-19-15-21.5-21.5-18.5-19q-33 31-33 73 0 40 28 68l206 207q27 27 68 27 40 0 68-26l147-146q28-28 28-67zm-703-705q0-40-28-68l-206-207q-28-28-68-28-39 0-68 27l-147 146q-28 28-28 67 0 40 28 68l208 208q27 27 68 27 42 0 72-31-3-3-19-18.5t-21.5-21.5-15-19-13-25.5-3.5-27.5q0-40 28-68t68-28q15 0 27.5 3.5t25.5 13 19 15 21.5 21.5 18.5 19q33-31 33-73zm895 705q0 120-85 203l-147 146q-83 83-203 83-121 0-204-85l-206-207q-83-83-83-203 0-123 88-209l-88-88q-86 88-208 88-120 0-204-84l-208-208q-84-84-84-204t85-203l147-146q83-83 203-83 121 0 204 85l206 207q83 83 83 203 0 123-88 209l88 88q86-88 208-88 120 0 204 84l208 208q84 84 84 204z"/></svg>
</div>
<div class="row">
<div class="t" style="left:5px;top:8.25px;font-size:14px;color:#333333;letter-spacing:0.2px;">No agents</div>
<div class="gd"></div>
<svg class="ic" style="left:281px;top:7.7px" width="14" height="14" viewBox="0 0 1664 1792"><path fill="#2b2b2b" d="M1520 1216q0-40-28-68l-208-208q-28-28-68-28-42 0-72 32 3 3 19 18.5t21.5 21.5 15 19 13 25.5 3.5 27.5q0 40-28 68t-68 28q-15 0-27.5-3.5t-25.5-13-19-15-21.5-21.5-18.5-19q-33 31-33 73 0 40 28 68l206 207q27 27 68 27 40 0 68-26l147-146q28-28 28-67zm-703-705q0-40-28-68l-206-207q-28-28-68-28-39 0-68 27l-147 146q-28 28-28 67 0 40 28 68l208 208q27 27 68 27 42 0 72-31-3-3-19-18.5t-21.5-21.5-15-19-13-25.5-3.5-27.5q0-40 28-68t68-28q15 0 27.5 3.5t25.5 13 19 15 21.5 21.5 18.5 19q33-31 33-73zm895 705q0 120-85 203l-147 146q-83 83-203 83-121 0-204-85l-206-207q-83-83-83-203 0-123 88-209l-88-88q-86 88-208 88-120 0-204-84l-208-208q-84-84-84-204t85-203l147-146q83-83 203-83 121 0 204 85l206 207q83 83 83 203 0 123-88 209l88 88q86-88 208-88 120 0 204 84l208 208q84 84 84 204z"/></svg>
</div>
</div>
<div class="node" style="left:1131px;top:84px">
<div class="hd" style="background:#3598dc">
<div class="t" style="left:10px;top:11.26px;font-size:18px;color:#fff;letter-spacing:-0.17px;-webkit-text-stroke:0.22px #3598dc;">10.Agent</div>
<div class="t sub" style="left:10px;top:45.04px;letter-spacing:-0.28px;-webkit-text-stroke:0.22px #3598dc">Agent<svg class="rf" width="12.3" height="12.3" viewBox="0 0 1792 1792"><path fill="#fff" d="M1639 1056q0 5-1 7-64 268-268 434.5t-478 166.5q-146 0-282.5-55t-243.5-157l-129 129q-19 19-45 19t-45-19-19-45v-448q0-26 19-45t45-19h448q26 0 45 19t19 45-19 45l-137 137q71 66 161 102t187 36q134 0 250-65t186-179q11-17 53-117 8-23 30-23h192q13 0 22.5 9.5t9.5 22.5zm25-800v448q0 26-19 45t-45 19h-448q-26 0-45-19t-19-45 19-45l138-138q-148-137-349-137-134 0-250 65t-186 179q-11 17-53 117-8 23-30 23h-199q-13 0-22.5-9.5t-9.5-22.5v-7q65-268 270-434.5t480-166.5q146 0 284 55.5t245 156.5l130-129q19-19 45-19t45 19 19 45z"/></svg></div>
<svg class="ic" style="left:268.3px;top:19.6px" width="24.2" height="24.2" viewBox="0 0 1792 1792"><path fill="#fff" d="M1490 1322q0 40-28 68l-136 136q-28 28-68 28t-68-28l-294-294-294 294q-28 28-68 28t-68-28l-136-136q-28-28-28-68t28-68l294-294-294-294q-28-28-28-68t28-68l136-136q28-28 68-28t68 28l294 294 294-294q28-28 68-28t68 28l136 136q28 28 28 68t-28 68l-294 294 294 294q28 28 28 68z"/></svg>
</div>
<div class="row">
<div class="t" style="left:5px;top:8.25px;font-size:14px;color:#333333;letter-spacing:0.11px;">Failure</div>
<svg class="ic" style="left:281px;top:7.7px" width="14" height="14" viewBox="0 0 1664 1792"><path fill="#2b2b2b" d="M1520 1216q0-40-28-68l-208-208q-28-28-68-28-42 0-72 32 3 3 19 18.5t21.5 21.5 15 19 13 25.5 3.5 27.5q0 40-28 68t-68 28q-15 0-27.5-3.5t-25.5-13-19-15-21.5-21.5-18.5-19q-33 31-33 73 0 40 28 68l206 207q27 27 68 27 40 0 68-26l147-146q28-28 28-67zm-703-705q0-40-28-68l-206-207q-28-28-68-28-39 0-68 27l-147 146q-28 28-28 67 0 40 28 68l208 208q27 27 68 27 42 0 72-31-3-3-19-18.5t-21.5-21.5-15-19-13-25.5-3.5-27.5q0-40 28-68t68-28q15 0 27.5 3.5t25.5 13 19 15 21.5 21.5 18.5 19q33-31 33-73zm895 705q0 120-85 203l-147 146q-83 83-203 83-121 0-204-85l-206-207q-83-83-83-203 0-123 88-209l-88-88q-86 88-208 88-120 0-204-84l-208-208q-84-84-84-204t85-203l147-146q83-83 203-83 121 0 204 85l206 207q83 83 83 203 0 123-88 209l88 88q86-88 208-88 120 0 204 84l208 208q84 84 84 204z"/></svg>
</div>
<div class="row">
<div class="t" style="left:5px;top:8.25px;font-size:14px;color:#333333;letter-spacing:-0.38px;">Success</div>
<div class="gd"></div>
<svg class="ic" style="left:281px;top:7.7px" width="14" height="14" viewBox="0 0 1664 1792"><path fill="#2b2b2b" d="M1520 1216q0-40-28-68l-208-208q-28-28-68-28-42 0-72 32 3 3 19 18.5t21.5 21.5 15 19 13 25.5 3.5 27.5q0 40-28 68t-68 28q-15 0-27.5-3.5t-25.5-13-19-15-21.5-21.5-18.5-19q-33 31-33 73 0 40 28 68l206 207q27 27 68 27 40 0 68-26l147-146q28-28 28-67zm-703-705q0-40-28-68l-206-207q-28-28-68-28-39 0-68 27l-147 146q-28 28-28 67 0 40 28 68l208 208q27 27 68 27 42 0 72-31-3-3-19-18.5t-21.5-21.5-15-19-13-25.5-3.5-27.5q0-40 28-68t68-28q15 0 27.5 3.5t25.5 13 19 15 21.5 21.5 18.5 19q33-31 33-73zm895 705q0 120-85 203l-147 146q-83 83-203 83-121 0-204-85l-206-207q-83-83-83-203 0-123 88-209l-88-88q-86 88-208 88-120 0-204-84l-208-208q-84-84-84-204t85-203l147-146q83-83 203-83 121 0 204 85l206 207q83 83 83 203 0 123-88 209l88 88q86-88 208-88 120 0 204 84l208 208q84 84 84 204z"/></svg>
</div>
</div>
<div class="node" style="left:56px;top:339px">
<div class="hd" style="background:#8e44ad">
<div class="t" style="left:10px;top:11.26px;font-size:18px;color:#fff;letter-spacing:-0.3px;-webkit-text-stroke:0.22px #8e44ad;">2.Kazakhstan</div>
<div class="t sub" style="left:10px;top:45.04px;letter-spacing:-0.1px;-webkit-text-stroke:0.22px #8e44ad">Number check<svg class="rf" width="12.3" height="12.3" viewBox="0 0 1792 1792"><path fill="#fff" d="M1639 1056q0 5-1 7-64 268-268 434.5t-478 166.5q-146 0-282.5-55t-243.5-157l-129 129q-19 19-45 19t-45-19-19-45v-448q0-26 19-45t45-19h448q26 0 45 19t19 45-19 45l-137 137q71 66 161 102t187 36q134 0 250-65t186-179q11-17 53-117 8-23 30-23h192q13 0 22.5 9.5t9.5 22.5zm25-800v448q0 26-19 45t-45 19h-448q-26 0-45-19t-19-45 19-45l138-138q-148-137-349-137-134 0-250 65t-186 179q-11 17-53 117-8 23-30 23h-199q-13 0-22.5-9.5t-9.5-22.5v-7q65-268 270-434.5t480-166.5q146 0 284 55.5t245 156.5l130-129q19-19 45-19t45 19 19 45z"/></svg></div>
<svg class="ic" style="left:268.3px;top:19.6px" width="24.2" height="24.2" viewBox="0 0 1792 1792"><path fill="#fff" d="M1490 1322q0 40-28 68l-136 136q-28 28-68 28t-68-28l-294-294-294 294q-28 28-68 28t-68-28l-136-136q-28-28-28-68t28-68l294-294-294-294q-28-28-28-68t28-68l136-136q28-28 68-28t68 28l294 294 294-294q28-28 68-28t68 28l136 136q28 28 28 68t-28 68l-294 294 294 294q28 28 28 68z"/></svg>
</div>
<div class="row">
<div class="t" style="left:5px;top:8.25px;font-size:14px;color:#333333;letter-spacing:0.18px;">Suitable</div>
<div class="gd"></div>
<svg class="ic" style="left:281px;top:7.7px" width="14" height="14" viewBox="0 0 1664 1792"><path fill="#2b2b2b" d="M1520 1216q0-40-28-68l-208-208q-28-28-68-28-42 0-72 32 3 3 19 18.5t21.5 21.5 15 19 13 25.5 3.5 27.5q0 40-28 68t-68 28q-15 0-27.5-3.5t-25.5-13-19-15-21.5-21.5-18.5-19q-33 31-33 73 0 40 28 68l206 207q27 27 68 27 40 0 68-26l147-146q28-28 28-67zm-703-705q0-40-28-68l-206-207q-28-28-68-28-39 0-68 27l-147 146q-28 28-28 67 0 40 28 68l208 208q27 27 68 27 42 0 72-31-3-3-19-18.5t-21.5-21.5-15-19-13-25.5-3.5-27.5q0-40 28-68t68-28q15 0 27.5 3.5t25.5 13 19 15 21.5 21.5 18.5 19q33-31 33-73zm895 705q0 120-85 203l-147 146q-83 83-203 83-121 0-204-85l-206-207q-83-83-83-203 0-123 88-209l-88-88q-86 88-208 88-120 0-204-84l-208-208q-84-84-84-204t85-203l147-146q83-83 203-83 121 0 204 85l206 207q83 83 83 203 0 123-88 209l88 88q86-88 208-88 120 0 204 84l208 208q84 84 84 204z"/></svg>
</div>
<div class="row">
<div class="t" style="left:5px;top:8.25px;font-size:14px;color:#333333;letter-spacing:0.4px;">Not suitable</div>
<div class="gd"></div>
<svg class="ic" style="left:281px;top:7.7px" width="14" height="14" viewBox="0 0 1664 1792"><path fill="#2b2b2b" d="M1520 1216q0-40-28-68l-208-208q-28-28-68-28-42 0-72 32 3 3 19 18.5t21.5 21.5 15 19 13 25.5 3.5 27.5q0 40-28 68t-68 28q-15 0-27.5-3.5t-25.5-13-19-15-21.5-21.5-18.5-19q-33 31-33 73 0 40 28 68l206 207q27 27 68 27 40 0 68-26l147-146q28-28 28-67zm-703-705q0-40-28-68l-206-207q-28-28-68-28-39 0-68 27l-147 146q-28 28-28 67 0 40 28 68l208 208q27 27 68 27 42 0 72-31-3-3-19-18.5t-21.5-21.5-15-19-13-25.5-3.5-27.5q0-40 28-68t68-28q15 0 27.5 3.5t25.5 13 19 15 21.5 21.5 18.5 19q33-31 33-73zm895 705q0 120-85 203l-147 146q-83 83-203 83-121 0-204-85l-206-207q-83-83-83-203 0-123 88-209l-88-88q-86 88-208 88-120 0-204-84l-208-208q-84-84-84-204t85-203l147-146q83-83 203-83 121 0 204 85l206 207q83 83 83 203 0 123-88 209l88 88q86-88 208-88 120 0 204 84l208 208q84 84 84 204z"/></svg>
</div>
<div class="row">
<div class="t" style="left:5px;top:8.25px;font-size:14px;color:#333333;letter-spacing:0.4px;">Error</div>
<svg class="ic" style="left:281px;top:7.7px" width="14" height="14" viewBox="0 0 1664 1792"><path fill="#2b2b2b" d="M1520 1216q0-40-28-68l-208-208q-28-28-68-28-42 0-72 32 3 3 19 18.5t21.5 21.5 15 19 13 25.5 3.5 27.5q0 40-28 68t-68 28q-15 0-27.5-3.5t-25.5-13-19-15-21.5-21.5-18.5-19q-33 31-33 73 0 40 28 68l206 207q27 27 68 27 40 0 68-26l147-146q28-28 28-67zm-703-705q0-40-28-68l-206-207q-28-28-68-28-39 0-68 27l-147 146q-28 28-28 67 0 40 28 68l208 208q27 27 68 27 42 0 72-31-3-3-19-18.5t-21.5-21.5-15-19-13-25.5-3.5-27.5q0-40 28-68t68-28q15 0 27.5 3.5t25.5 13 19 15 21.5 21.5 18.5 19q33-31 33-73zm895 705q0 120-85 203l-147 146q-83 83-203 83-121 0-204-85l-206-207q-83-83-83-203 0-123 88-209l-88-88q-86 88-208 88-120 0-204-84l-208-208q-84-84-84-204t85-203l147-146q83-83 203-83 121 0 204 85l206 207q83 83 83 203 0 123-88 209l88 88q86-88 208-88 120 0 204 84l208 208q84 84 84 204z"/></svg>
</div>
</div>
<div class="node" style="left:521px;top:289px">
<div class="hd" style="background:#3598dc">
<div class="t" style="left:10px;top:11.26px;font-size:18px;color:#fff;letter-spacing:-0.15px;-webkit-text-stroke:0.22px #3598dc;">6.Queue:Kazakhstan</div>
<div class="t sub" style="left:10px;top:45.04px;letter-spacing:-0.1px;-webkit-text-stroke:0.22px #3598dc">Queue<svg class="rf" width="12.3" height="12.3" viewBox="0 0 1792 1792"><path fill="#fff" d="M1639 1056q0 5-1 7-64 268-268 434.5t-478 166.5q-146 0-282.5-55t-243.5-157l-129 129q-19 19-45 19t-45-19-19-45v-448q0-26 19-45t45-19h448q26 0 45 19t19 45-19 45l-137 137q71 66 161 102t187 36q134 0 250-65t186-179q11-17 53-117 8-23 30-23h192q13 0 22.5 9.5t9.5 22.5zm25-800v448q0 26-19 45t-45 19h-448q-26 0-45-19t-19-45 19-45l138-138q-148-137-349-137-134 0-250 65t-186 179q-11 17-53 117-8 23-30 23h-199q-13 0-22.5-9.5t-9.5-22.5v-7q65-268 270-434.5t480-166.5q146 0 284 55.5t245 156.5l130-129q19-19 45-19t45 19 19 45z"/></svg></div>
<svg class="ic" style="left:268.3px;top:19.6px" width="24.2" height="24.2" viewBox="0 0 1792 1792"><path fill="#fff" d="M1490 1322q0 40-28 68l-136 136q-28 28-68 28t-68-28l-294-294-294 294q-28 28-68 28t-68-28l-136-136q-28-28-28-68t28-68l294-294-294-294q-28-28-28-68t28-68l136-136q28-28 68-28t68 28l294 294 294-294q28-28 68-28t68 28l136 136q28 28 28 68t-28 68l-294 294 294 294q28 28 28 68z"/></svg>
</div>
<div class="row">
<div class="t" style="left:5px;top:8.25px;font-size:14px;color:#333333;letter-spacing:0.14px;">There is an agent</div>
<div class="gd"></div>
<svg class="ic" style="left:281px;top:7.7px" width="14" height="14" viewBox="0 0 1664 1792"><path fill="#2b2b2b" d="M1520 1216q0-40-28-68l-208-208q-28-28-68-28-42 0-72 32 3 3 19 18.5t21.5 21.5 15 19 13 25.5 3.5 27.5q0 40-28 68t-68 28q-15 0-27.5-3.5t-25.5-13-19-15-21.5-21.5-18.5-19q-33 31-33 73 0 40 28 68l206 207q27 27 68 27 40 0 68-26l147-146q28-28 28-67zm-703-705q0-40-28-68l-206-207q-28-28-68-28-39 0-68 27l-147 146q-28 28-28 67 0 40 28 68l208 208q27 27 68 27 42 0 72-31-3-3-19-18.5t-21.5-21.5-15-19-13-25.5-3.5-27.5q0-40 28-68t68-28q15 0 27.5 3.5t25.5 13 19 15 21.5 21.5 18.5 19q33-31 33-73zm895 705q0 120-85 203l-147 146q-83 83-203 83-121 0-204-85l-206-207q-83-83-83-203 0-123 88-209l-88-88q-86 88-208 88-120 0-204-84l-208-208q-84-84-84-204t85-203l147-146q83-83 203-83 121 0 204 85l206 207q83 83 83 203 0 123-88 209l88 88q86-88 208-88 120 0 204 84l208 208q84 84 84 204z"/></svg>
</div>
<div class="row">
<div class="t" style="left:5px;top:8.25px;font-size:14px;color:#333333;letter-spacing:0.2px;">No agents</div>
<div class="gd"></div>
<svg class="ic" style="left:281px;top:7.7px" width="14" height="14" viewBox="0 0 1664 1792"><path fill="#2b2b2b" d="M1520 1216q0-40-28-68l-208-208q-28-28-68-28-42 0-72 32 3 3 19 18.5t21.5 21.5 15 19 13 25.5 3.5 27.5q0 40-28 68t-68 28q-15 0-27.5-3.5t-25.5-13-19-15-21.5-21.5-18.5-19q-33 31-33 73 0 40 28 68l206 207q27 27 68 27 40 0 68-26l147-146q28-28 28-67zm-703-705q0-40-28-68l-206-207q-28-28-68-28-39 0-68 27l-147 146q-28 28-28 67 0 40 28 68l208 208q27 27 68 27 42 0 72-31-3-3-19-18.5t-21.5-21.5-15-19-13-25.5-3.5-27.5q0-40 28-68t68-28q15 0 27.5 3.5t25.5 13 19 15 21.5 21.5 18.5 19q33-31 33-73zm895 705q0 120-85 203l-147 146q-83 83-203 83-121 0-204-85l-206-207q-83-83-83-203 0-123 88-209l-88-88q-86 88-208 88-120 0-204-84l-208-208q-84-84-84-204t85-203l147-146q83-83 203-83 121 0 204 85l206 207q83 83 83 203 0 123-88 209l88 88q86-88 208-88 120 0 204 84l208 208q84 84 84 204z"/></svg>
</div>
</div>
<div class="node" style="left:936px;top:304px">
<div class="hd" style="background:#3598dc">
<div class="t" style="left:10px;top:11.26px;font-size:18px;color:#fff;letter-spacing:-0.17px;-webkit-text-stroke:0.22px #3598dc;">9.Agent</div>
<div class="t sub" style="left:10px;top:45.04px;letter-spacing:-0.28px;-webkit-text-stroke:0.22px #3598dc">Agent<svg class="rf" width="12.3" height="12.3" viewBox="0 0 1792 1792"><path fill="#fff" d="M1639 1056q0 5-1 7-64 268-268 434.5t-478 166.5q-146 0-282.5-55t-243.5-157l-129 129q-19 19-45 19t-45-19-19-45v-448q0-26 19-45t45-19h448q26 0 45 19t19 45-19 45l-137 137q71 66 161 102t187 36q134 0 250-65t186-179q11-17 53-117 8-23 30-23h192q13 0 22.5 9.5t9.5 22.5zm25-800v448q0 26-19 45t-45 19h-448q-26 0-45-19t-19-45 19-45l138-138q-148-137-349-137-134 0-250 65t-186 179q-11 17-53 117-8 23-30 23h-199q-13 0-22.5-9.5t-9.5-22.5v-7q65-268 270-434.5t480-166.5q146 0 284 55.5t245 156.5l130-129q19-19 45-19t45 19 19 45z"/></svg></div>
<svg class="ic" style="left:268.3px;top:19.6px" width="24.2" height="24.2" viewBox="0 0 1792 1792"><path fill="#fff" d="M1490 1322q0 40-28 68l-136 136q-28 28-68 28t-68-28l-294-294-294 294q-28 28-68 28t-68-28l-136-136q-28-28-28-68t28-68l294-294-294-294q-28-28-28-68t28-68l136-136q28-28 68-28t68 28l294 294 294-294q28-28 68-28t68 28l136 136q28 28 28 68t-28 68l-294 294 294 294q28 28 28 68z"/></svg>
</div>
<div class="row">
<div class="t" style="left:5px;top:8.25px;font-size:14px;color:#333333;letter-spacing:0.11px;">Failure</div>
<svg class="ic" style="left:281px;top:7.7px" width="14" height="14" viewBox="0 0 1664 1792"><path fill="#2b2b2b" d="M1520 1216q0-40-28-68l-208-208q-28-28-68-28-42 0-72 32 3 3 19 18.5t21.5 21.5 15 19 13 25.5 3.5 27.5q0 40-28 68t-68 28q-15 0-27.5-3.5t-25.5-13-19-15-21.5-21.5-18.5-19q-33 31-33 73 0 40 28 68l206 207q27 27 68 27 40 0 68-26l147-146q28-28 28-67zm-703-705q0-40-28-68l-206-207q-28-28-68-28-39 0-68 27l-147 146q-28 28-28 67 0 40 28 68l208 208q27 27 68 27 42 0 72-31-3-3-19-18.5t-21.5-21.5-15-19-13-25.5-3.5-27.5q0-40 28-68t68-28q15 0 27.5 3.5t25.5 13 19 15 21.5 21.5 18.5 19q33-31 33-73zm895 705q0 120-85 203l-147 146q-83 83-203 83-121 0-204-85l-206-207q-83-83-83-203 0-123 88-209l-88-88q-86 88-208 88-120 0-204-84l-208-208q-84-84-84-204t85-203l147-146q83-83 203-83 121 0 204 85l206 207q83 83 83 203 0 123-88 209l88 88q86-88 208-88 120 0 204 84l208 208q84 84 84 204z"/></svg>
</div>
<div class="row">
<div class="t" style="left:5px;top:8.25px;font-size:14px;color:#333333;letter-spacing:-0.38px;">Success</div>
<div class="gd"></div>
<svg class="ic" style="left:281px;top:7.7px" width="14" height="14" viewBox="0 0 1664 1792"><path fill="#2b2b2b" d="M1520 1216q0-40-28-68l-208-208q-28-28-68-28-42 0-72 32 3 3 19 18.5t21.5 21.5 15 19 13 25.5 3.5 27.5q0 40-28 68t-68 28q-15 0-27.5-3.5t-25.5-13-19-15-21.5-21.5-18.5-19q-33 31-33 73 0 40 28 68l206 207q27 27 68 27 40 0 68-26l147-146q28-28 28-67zm-703-705q0-40-28-68l-206-207q-28-28-68-28-39 0-68 27l-147 146q-28 28-28 67 0 40 28 68l208 208q27 27 68 27 42 0 72-31-3-3-19-18.5t-21.5-21.5-15-19-13-25.5-3.5-27.5q0-40 28-68t68-28q15 0 27.5 3.5t25.5 13 19 15 21.5 21.5 18.5 19q33-31 33-73zm895 705q0 120-85 203l-147 146q-83 83-203 83-121 0-204-85l-206-207q-83-83-83-203 0-123 88-209l-88-88q-86 88-208 88-120 0-204-84l-208-208q-84-84-84-204t85-203l147-146q83-83 203-83 121 0 204 85l206 207q83 83 83 203 0 123-88 209l88 88q86-88 208-88 120 0 204 84l208 208q84 84 84 204z"/></svg>
</div>
</div>
<div class="node" style="left:316px;top:549px">
<div class="hd" style="background:#8e44ad">
<div class="t" style="left:10px;top:11.26px;font-size:18px;color:#fff;letter-spacing:0.18px;-webkit-text-stroke:0.22px #8e44ad;">4.International</div>
<div class="t sub" style="left:10px;top:45.04px;letter-spacing:-0.1px;-webkit-text-stroke:0.22px #8e44ad">Number check<svg class="rf" width="12.3" height="12.3" viewBox="0 0 1792 1792"><path fill="#fff" d="M1639 1056q0 5-1 7-64 268-268 434.5t-478 166.5q-146 0-282.5-55t-243.5-157l-129 129q-19 19-45 19t-45-19-19-45v-448q0-26 19-45t45-19h448q26 0 45 19t19 45-19 45l-137 137q71 66 161 102t187 36q134 0 250-65t186-179q11-17 53-117 8-23 30-23h192q13 0 22.5 9.5t9.5 22.5zm25-800v448q0 26-19 45t-45 19h-448q-26 0-45-19t-19-45 19-45l138-138q-148-137-349-137-134 0-250 65t-186 179q-11 17-53 117-8 23-30 23h-199q-13 0-22.5-9.5t-9.5-22.5v-7q65-268 270-434.5t480-166.5q146 0 284 55.5t245 156.5l130-129q19-19 45-19t45 19 19 45z"/></svg></div>
<svg class="ic" style="left:268.3px;top:19.6px" width="24.2" height="24.2" viewBox="0 0 1792 1792"><path fill="#fff" d="M1490 1322q0 40-28 68l-136 136q-28 28-68 28t-68-28l-294-294-294 294q-28 28-68 28t-68-28l-136-136q-28-28-28-68t28-68l294-294-294-294q-28-28-28-68t28-68l136-136q28-28 68-28t68 28l294 294 294-294q28-28 68-28t68 28l136 136q28 28 28 68t-28 68l-294 294 294 294q28 28 28 68z"/></svg>
</div>
<div class="row">
<div class="t" style="left:5px;top:8.25px;font-size:14px;color:#333333;letter-spacing:0.18px;">Suitable</div>
<div class="gd"></div>
<svg class="ic" style="left:281px;top:7.7px" width="14" height="14" viewBox="0 0 1664 1792"><path fill="#2b2b2b" d="M1520 1216q0-40-28-68l-208-208q-28-28-68-28-42 0-72 32 3 3 19 18.5t21.5 21.5 15 19 13 25.5 3.5 27.5q0 40-28 68t-68 28q-15 0-27.5-3.5t-25.5-13-19-15-21.5-21.5-18.5-19q-33 31-33 73 0 40 28 68l206 207q27 27 68 27 40 0 68-26l147-146q28-28 28-67zm-703-705q0-40-28-68l-206-207q-28-28-68-28-39 0-68 27l-147 146q-28 28-28 67 0 40 28 68l208 208q27 27 68 27 42 0 72-31-3-3-19-18.5t-21.5-21.5-15-19-13-25.5-3.5-27.5q0-40 28-68t68-28q15 0 27.5 3.5t25.5 13 19 15 21.5 21.5 18.5 19q33-31 33-73zm895 705q0 120-85 203l-147 146q-83 83-203 83-121 0-204-85l-206-207q-83-83-83-203 0-123 88-209l-88-88q-86 88-208 88-120 0-204-84l-208-208q-84-84-84-204t85-203l147-146q83-83 203-83 121 0 204 85l206 207q83 83 83 203 0 123-88 209l88 88q86-88 208-88 120 0 204 84l208 208q84 84 84 204z"/></svg>
</div>
<div class="row">
<div class="t" style="left:5px;top:8.25px;font-size:14px;color:#333333;letter-spacing:0.4px;">Not suitable</div>
<div class="gd"></div>
<svg class="ic" style="left:281px;top:7.7px" width="14" height="14" viewBox="0 0 1664 1792"><path fill="#2b2b2b" d="M1520 1216q0-40-28-68l-208-208q-28-28-68-28-42 0-72 32 3 3 19 18.5t21.5 21.5 15 19 13 25.5 3.5 27.5q0 40-28 68t-68 28q-15 0-27.5-3.5t-25.5-13-19-15-21.5-21.5-18.5-19q-33 31-33 73 0 40 28 68l206 207q27 27 68 27 40 0 68-26l147-146q28-28 28-67zm-703-705q0-40-28-68l-206-207q-28-28-68-28-39 0-68 27l-147 146q-28 28-28 67 0 40 28 68l208 208q27 27 68 27 42 0 72-31-3-3-19-18.5t-21.5-21.5-15-19-13-25.5-3.5-27.5q0-40 28-68t68-28q15 0 27.5 3.5t25.5 13 19 15 21.5 21.5 18.5 19q33-31 33-73zm895 705q0 120-85 203l-147 146q-83 83-203 83-121 0-204-85l-206-207q-83-83-83-203 0-123 88-209l-88-88q-86 88-208 88-120 0-204-84l-208-208q-84-84-84-204t85-203l147-146q83-83 203-83 121 0 204 85l206 207q83 83 83 203 0 123-88 209l88 88q86-88 208-88 120 0 204 84l208 208q84 84 84 204z"/></svg>
</div>
<div class="row">
<div class="t" style="left:5px;top:8.25px;font-size:14px;color:#333333;letter-spacing:0.4px;">Error</div>
<svg class="ic" style="left:281px;top:7.7px" width="14" height="14" viewBox="0 0 1664 1792"><path fill="#2b2b2b" d="M1520 1216q0-40-28-68l-208-208q-28-28-68-28-42 0-72 32 3 3 19 18.5t21.5 21.5 15 19 13 25.5 3.5 27.5q0 40-28 68t-68 28q-15 0-27.5-3.5t-25.5-13-19-15-21.5-21.5-18.5-19q-33 31-33 73 0 40 28 68l206 207q27 27 68 27 40 0 68-26l147-146q28-28 28-67zm-703-705q0-40-28-68l-206-207q-28-28-68-28-39 0-68 27l-147 146q-28 28-28 67 0 40 28 68l208 208q27 27 68 27 42 0 72-31-3-3-19-18.5t-21.5-21.5-15-19-13-25.5-3.5-27.5q0-40 28-68t68-28q15 0 27.5 3.5t25.5 13 19 15 21.5 21.5 18.5 19q33-31 33-73zm895 705q0 120-85 203l-147 146q-83 83-203 83-121 0-204-85l-206-207q-83-83-83-203 0-123 88-209l-88-88q-86 88-208 88-120 0-204-84l-208-208q-84-84-84-204t85-203l147-146q83-83 203-83 121 0 204 85l206 207q83 83 83 203 0 123-88 209l88 88q86-88 208-88 120 0 204 84l208 208q84 84 84 204z"/></svg>
</div>
</div>
<div class="node" style="left:696px;top:509px">
<div class="hd" style="background:#3598dc">
<div class="t" style="left:10px;top:11.26px;font-size:18px;color:#fff;letter-spacing:0.16px;-webkit-text-stroke:0.22px #3598dc;">7.Queue:International</div>
<div class="t sub" style="left:10px;top:45.04px;letter-spacing:-0.1px;-webkit-text-stroke:0.22px #3598dc">Queue<svg class="rf" width="12.3" height="12.3" viewBox="0 0 1792 1792"><path fill="#fff" d="M1639 1056q0 5-1 7-64 268-268 434.5t-478 166.5q-146 0-282.5-55t-243.5-157l-129 129q-19 19-45 19t-45-19-19-45v-448q0-26 19-45t45-19h448q26 0 45 19t19 45-19 45l-137 137q71 66 161 102t187 36q134 0 250-65t186-179q11-17 53-117 8-23 30-23h192q13 0 22.5 9.5t9.5 22.5zm25-800v448q0 26-19 45t-45 19h-448q-26 0-45-19t-19-45 19-45l138-138q-148-137-349-137-134 0-250 65t-186 179q-11 17-53 117-8 23-30 23h-199q-13 0-22.5-9.5t-9.5-22.5v-7q65-268 270-434.5t480-166.5q146 0 284 55.5t245 156.5l130-129q19-19 45-19t45 19 19 45z"/></svg></div>
<svg class="ic" style="left:268.3px;top:19.6px" width="24.2" height="24.2" viewBox="0 0 1792 1792"><path fill="#fff" d="M1490 1322q0 40-28 68l-136 136q-28 28-68 28t-68-28l-294-294-294 294q-28 28-68 28t-68-28l-136-136q-28-28-28-68t28-68l294-294-294-294q-28-28-28-68t28-68l136-136q28-28 68-28t68 28l294 294 294-294q28-28 68-28t68 28l136 136q28 28 28 68t-28 68l-294 294 294 294q28 28 28 68z"/></svg>
</div>
<div class="row">
<div class="t" style="left:5px;top:8.25px;font-size:14px;color:#333333;letter-spacing:0.14px;">There is an agent</div>
<div class="gd"></div>
<svg class="ic" style="left:281px;top:7.7px" width="14" height="14" viewBox="0 0 1664 1792"><path fill="#2b2b2b" d="M1520 1216q0-40-28-68l-208-208q-28-28-68-28-42 0-72 32 3 3 19 18.5t21.5 21.5 15 19 13 25.5 3.5 27.5q0 40-28 68t-68 28q-15 0-27.5-3.5t-25.5-13-19-15-21.5-21.5-18.5-19q-33 31-33 73 0 40 28 68l206 207q27 27 68 27 40 0 68-26l147-146q28-28 28-67zm-703-705q0-40-28-68l-206-207q-28-28-68-28-39 0-68 27l-147 146q-28 28-28 67 0 40 28 68l208 208q27 27 68 27 42 0 72-31-3-3-19-18.5t-21.5-21.5-15-19-13-25.5-3.5-27.5q0-40 28-68t68-28q15 0 27.5 3.5t25.5 13 19 15 21.5 21.5 18.5 19q33-31 33-73zm895 705q0 120-85 203l-147 146q-83 83-203 83-121 0-204-85l-206-207q-83-83-83-203 0-123 88-209l-88-88q-86 88-208 88-120 0-204-84l-208-208q-84-84-84-204t85-203l147-146q83-83 203-83 121 0 204 85l206 207q83 83 83 203 0 123-88 209l88 88q86-88 208-88 120 0 204 84l208 208q84 84 84 204z"/></svg>
</div>
<div class="row">
<div class="t" style="left:5px;top:8.25px;font-size:14px;color:#333333;letter-spacing:0.2px;">No agents</div>
<div class="gd"></div>
<svg class="ic" style="left:281px;top:7.7px" width="14" height="14" viewBox="0 0 1664 1792"><path fill="#2b2b2b" d="M1520 1216q0-40-28-68l-208-208q-28-28-68-28-42 0-72 32 3 3 19 18.5t21.5 21.5 15 19 13 25.5 3.5 27.5q0 40-28 68t-68 28q-15 0-27.5-3.5t-25.5-13-19-15-21.5-21.5-18.5-19q-33 31-33 73 0 40 28 68l206 207q27 27 68 27 40 0 68-26l147-146q28-28 28-67zm-703-705q0-40-28-68l-206-207q-28-28-68-28-39 0-68 27l-147 146q-28 28-28 67 0 40 28 68l208 208q27 27 68 27 42 0 72-31-3-3-19-18.5t-21.5-21.5-15-19-13-25.5-3.5-27.5q0-40 28-68t68-28q15 0 27.5 3.5t25.5 13 19 15 21.5 21.5 18.5 19q33-31 33-73zm895 705q0 120-85 203l-147 146q-83 83-203 83-121 0-204-85l-206-207q-83-83-83-203 0-123 88-209l-88-88q-86 88-208 88-120 0-204-84l-208-208q-84-84-84-204t85-203l147-146q83-83 203-83 121 0 204 85l206 207q83 83 83 203 0 123-88 209l88 88q86-88 208-88 120 0 204 84l208 208q84 84 84 204z"/></svg>
</div>
</div>
<div class="node" style="left:1086px;top:524px">
<div class="hd" style="background:#3598dc">
<div class="t" style="left:10px;top:11.26px;font-size:18px;color:#fff;letter-spacing:-0.17px;-webkit-text-stroke:0.22px #3598dc;">8.Agent</div>
<div class="t sub" style="left:10px;top:45.04px;letter-spacing:-0.28px;-webkit-text-stroke:0.22px #3598dc">Agent<svg class="rf" width="12.3" height="12.3" viewBox="0 0 1792 1792"><path fill="#fff" d="M1639 1056q0 5-1 7-64 268-268 434.5t-478 166.5q-146 0-282.5-55t-243.5-157l-129 129q-19 19-45 19t-45-19-19-45v-448q0-26 19-45t45-19h448q26 0 45 19t19 45-19 45l-137 137q71 66 161 102t187 36q134 0 250-65t186-179q11-17 53-117 8-23 30-23h192q13 0 22.5 9.5t9.5 22.5zm25-800v448q0 26-19 45t-45 19h-448q-26 0-45-19t-19-45 19-45l138-138q-148-137-349-137-134 0-250 65t-186 179q-11 17-53 117-8 23-30 23h-199q-13 0-22.5-9.5t-9.5-22.5v-7q65-268 270-434.5t480-166.5q146 0 284 55.5t245 156.5l130-129q19-19 45-19t45 19 19 45z"/></svg></div>
<svg class="ic" style="left:268.3px;top:19.6px" width="24.2" height="24.2" viewBox="0 0 1792 1792"><path fill="#fff" d="M1490 1322q0 40-28 68l-136 136q-28 28-68 28t-68-28l-294-294-294 294q-28 28-68 28t-68-28l-136-136q-28-28-28-68t28-68l294-294-294-294q-28-28-28-68t28-68l136-136q28-28 68-28t68 28l294 294 294-294q28-28 68-28t68 28l136 136q28 28 28 68t-28 68l-294 294 294 294q28 28 28 68z"/></svg>
</div>
<div class="row">
<div class="t" style="left:5px;top:8.25px;font-size:14px;color:#333333;letter-spacing:0.11px;">Failure</div>
<svg class="ic" style="left:281px;top:7.7px" width="14" height="14" viewBox="0 0 1664 1792"><path fill="#2b2b2b" d="M1520 1216q0-40-28-68l-208-208q-28-28-68-28-42 0-72 32 3 3 19 18.5t21.5 21.5 15 19 13 25.5 3.5 27.5q0 40-28 68t-68 28q-15 0-27.5-3.5t-25.5-13-19-15-21.5-21.5-18.5-19q-33 31-33 73 0 40 28 68l206 207q27 27 68 27 40 0 68-26l147-146q28-28 28-67zm-703-705q0-40-28-68l-206-207q-28-28-68-28-39 0-68 27l-147 146q-28 28-28 67 0 40 28 68l208 208q27 27 68 27 42 0 72-31-3-3-19-18.5t-21.5-21.5-15-19-13-25.5-3.5-27.5q0-40 28-68t68-28q15 0 27.5 3.5t25.5 13 19 15 21.5 21.5 18.5 19q33-31 33-73zm895 705q0 120-85 203l-147 146q-83 83-203 83-121 0-204-85l-206-207q-83-83-83-203 0-123 88-209l-88-88q-86 88-208 88-120 0-204-84l-208-208q-84-84-84-204t85-203l147-146q83-83 203-83 121 0 204 85l206 207q83 83 83 203 0 123-88 209l88 88q86-88 208-88 120 0 204 84l208 208q84 84 84 204z"/></svg>
</div>
<div class="row">
<div class="t" style="left:5px;top:8.25px;font-size:14px;color:#333333;letter-spacing:-0.38px;">Success</div>
<div class="gd"></div>
<svg class="ic" style="left:281px;top:7.7px" width="14" height="14" viewBox="0 0 1664 1792"><path fill="#2b2b2b" d="M1520 1216q0-40-28-68l-208-208q-28-28-68-28-42 0-72 32 3 3 19 18.5t21.5 21.5 15 19 13 25.5 3.5 27.5q0 40-28 68t-68 28q-15 0-27.5-3.5t-25.5-13-19-15-21.5-21.5-18.5-19q-33 31-33 73 0 40 28 68l206 207q27 27 68 27 40 0 68-26l147-146q28-28 28-67zm-703-705q0-40-28-68l-206-207q-28-28-68-28-39 0-68 27l-147 146q-28 28-28 67 0 40 28 68l208 208q27 27 68 27 42 0 72-31-3-3-19-18.5t-21.5-21.5-15-19-13-25.5-3.5-27.5q0-40 28-68t68-28q15 0 27.5 3.5t25.5 13 19 15 21.5 21.5 18.5 19q33-31 33-73zm895 705q0 120-85 203l-147 146q-83 83-203 83-121 0-204-85l-206-207q-83-83-83-203 0-123 88-209l-88-88q-86 88-208 88-120 0-204-84l-208-208q-84-84-84-204t85-203l147-146q83-83 203-83 121 0 204 85l206 207q83 83 83 203 0 123-88 209l88 88q86-88 208-88 120 0 204 84l208 208q84 84 84 204z"/></svg>
</div>
</div>
<svg class="cv" width="1345" height="867" viewBox="0 0 1345 867">
<path d="M326,119 L361.00,119.00 Q366,119 366.00,124.00 L366.00,127.00 Q366,132 361.00,132.00 L306.00,132.00 Q301,132 301.00,137.00 L301.00,140.00 Q301,145 306.00,145.00 L361,145" fill="none" stroke="#447aa1" stroke-width="4" stroke-linejoin="round"/>
<polygon fill="#447aa1" points="360.5,145.0 349.7,139.1 353.7,145.0 349.7,150.9"/>
<path d="M676,149 L711.00,149.00 Q716,149 716.00,154.00 L716.00,157.00 Q716,162 711.00,162.00 L681.00,162.00 Q676,162 676.00,167.00 L676.00,170.00 Q676,175 681.00,175.00 L736,175" fill="none" stroke="#447aa1" stroke-width="4" stroke-linejoin="round"/>
<polygon fill="#447aa1" points="735.5,175.0 724.7,169.1 728.7,175.0 724.7,180.9"/>
<path d="M676,180 L711.00,180.00 Q716,180 716.00,185.00 L716.00,220.00 Q716,225 711.00,225.00 L211.00,225.00 Q206,225 206.00,230.00 L206,329" fill="none" stroke="#447aa1" stroke-width="4" stroke-linejoin="round"/>
<polygon fill="#447aa1" points="206.0,328.5 211.9,317.7 206.0,321.7 200.1,317.7"/>
<path d="M1051,194 L1086.00,194.00 Q1091,194 1091.00,189.00 L1091.00,177.00 Q1091,172 1086.00,172.00 L1066.00,172.00 Q1061,172 1061.00,167.00 L1061.00,155.00 Q1061,150 1066.00,150.00 L1121,150" fill="none" stroke="#447aa1" stroke-width="4" stroke-linejoin="round"/>
<polygon fill="#447aa1" points="1120.5,150.0 1109.7,144.1 1113.7,150.0 1109.7,155.9"/>
<path d="M361,424 L421.00,424.00 Q426,424 426.00,419.00 L426.00,360.00 Q426,355 431.00,355.00 L511,355" fill="none" stroke="#447aa1" stroke-width="4" stroke-linejoin="round"/>
<polygon fill="#447aa1" points="510.5,355.0 499.7,349.1 503.7,355.0 499.7,360.9"/>
<path d="M361,455 L461.00,455.00 Q466,455 466.00,460.00 L466,539" fill="none" stroke="#447aa1" stroke-width="4" stroke-linejoin="round"/>
<polygon fill="#447aa1" points="466.0,538.5 471.9,527.7 466.0,531.7 460.1,527.7"/>
<path d="M621,634 L656.00,634.00 Q661,634 661.00,629.00 L661.00,609.50 Q661,604.5 656.00,604.50 L631.00,604.50 Q626,604.5 626.00,599.50 L626.00,580.00 Q626,575 631.00,575.00 L686,575" fill="none" stroke="#447aa1" stroke-width="4" stroke-linejoin="round"/>
<polygon fill="#447aa1" points="685.5,575.0 674.7,569.1 678.7,575.0 674.7,580.9"/>
<path d="M826,374 L864.00,374.00 Q866,374 866.00,372.00 L866.00,372.00 Q866,370 868.00,370.00 L926,370" fill="none" stroke="#447aa1" stroke-width="4" stroke-linejoin="round"/>
<polygon fill="#447aa1" points="925.5,370.0 914.7,364.1 918.7,370.0 914.7,375.9"/>
<path d="M1001,594 L1040.00,594.00 Q1041,594 1041.00,593.00 L1041.00,593.00 Q1041,592 1040.00,592.00 L1017.00,592.00 Q1016,592 1016.00,591.00 L1016.00,591.00 Q1016,590 1017.00,590.00 L1076,590" fill="none" stroke="#447aa1" stroke-width="4" stroke-linejoin="round"/>
<polygon fill="#447aa1" points="1075.5,590.0 1064.7,584.1 1068.7,590.0 1064.7,595.9"/>
<circle cx="316" cy="119" r="7" fill="#447aa1"/>
<circle cx="316" cy="150" r="7" fill="#447aa1"/>
<circle cx="666" cy="149" r="7" fill="#447aa1"/>
<circle cx="666" cy="180" r="7" fill="#447aa1"/>
<circle cx="666" cy="211" r="7" fill="#447aa1"/>
<circle cx="371" cy="145" r="8" fill="#447aa1"/>
<circle cx="1041" cy="194" r="7" fill="#447aa1"/>
<circle cx="1041" cy="225" r="7" fill="#447aa1"/>
<circle cx="746" cy="175" r="8" fill="#447aa1"/>
<circle cx="1426" cy="169" r="7" fill="#447aa1"/>
<circle cx="1426" cy="200" r="7" fill="#447aa1"/>
<circle cx="1131" cy="150" r="8" fill="#447aa1"/>
<circle cx="351" cy="424" r="7" fill="#447aa1"/>
<circle cx="351" cy="455" r="7" fill="#447aa1"/>
<circle cx="351" cy="486" r="7" fill="#447aa1"/>
<circle cx="206" cy="339" r="8" fill="#447aa1"/>
<circle cx="816" cy="374" r="7" fill="#447aa1"/>
<circle cx="816" cy="405" r="7" fill="#447aa1"/>
<circle cx="521" cy="355" r="8" fill="#447aa1"/>
<circle cx="1231" cy="389" r="7" fill="#447aa1"/>
<circle cx="1231" cy="420" r="7" fill="#447aa1"/>
<circle cx="936" cy="370" r="8" fill="#447aa1"/>
<circle cx="611" cy="634" r="7" fill="#447aa1"/>
<circle cx="611" cy="665" r="7" fill="#447aa1"/>
<circle cx="611" cy="696" r="7" fill="#447aa1"/>
<circle cx="466" cy="549" r="8" fill="#447aa1"/>
<circle cx="991" cy="594" r="7" fill="#447aa1"/>
<circle cx="991" cy="625" r="7" fill="#447aa1"/>
<circle cx="696" cy="575" r="8" fill="#447aa1"/>
<circle cx="1381" cy="609" r="7" fill="#447aa1"/>
<circle cx="1381" cy="640" r="7" fill="#447aa1"/>
<circle cx="1086" cy="590" r="8" fill="#447aa1"/>
</svg>
<div class="redbox" style="left:371px;top:61px;width:301px;height:163px"></div>
<div id="panel">
<div class="tab on" style="left:0;width:107px"></div>
<div class="tabline"></div><div class="tabline on"></div>
<div class="t" style="left:22px;top:2.45px;font-size:14px;color:#f3565d;letter-spacing:-0.94px;">SETTINGS</div>
<div class="t" style="left:129px;top:2.45px;font-size:14px;color:#8a9ab3;letter-spacing:-0.91px;">ELEMENTS</div>
<div class="t" style="left:241px;top:2.45px;font-size:14px;color:#8a9ab3;letter-spacing:-0.79px;">HISTORY</div>
<div class="t" style="left:20px;top:33.94px;font-size:12px;color:#a5b0c2;letter-spacing:0.08px;">The number from which the call comes</div>
<div class="radio" style="left:22px;top:60.5px"></div>
<div class="t" style="left:45.2px;top:59.35px;font-size:14px;color:#93a1b7;letter-spacing:-0.45px;">DNIS</div>
<div class="t" style="left:20px;top:87.74px;font-size:12px;color:#a5b0c2;">Number receiving a call</div>
<div class="t" style="left:20px;top:119.05px;font-size:14px;color:#93a1b7;letter-spacing:0.04px;">Values</div>
<div class="inp" style="left:20px;top:141px;height:30px"></div>
<div class="t" style="left:31px;top:149.20px;font-size:13px;color:#333333;letter-spacing:-0.5px;">380</div>
<div class="t" style="left:20px;top:181.64px;font-size:12px;color:#a5b0c2;letter-spacing:0.08px;">You can specify multiple numbers separated by</div>
<div class="t" style="left:20px;top:194.74px;font-size:12px;color:#a5b0c2;letter-spacing:0.055px;">commas, as well as the first digits of the phone</div>
<div class="t" style="left:20px;top:207.84px;font-size:12px;color:#a5b0c2;letter-spacing:0.215px;">number and/or [number length], for example:</div>
<div class="t" style="left:20px;top:220.94px;font-size:12px;color:#a5b0c2;letter-spacing:0.09px;">79534719191, 380, 38[10], 798[8], [12]</div>
<div class="t" style="left:20px;top:253.15px;font-size:14px;color:#93a1b7;letter-spacing:0.08px;">List</div>
<div class="inp" style="left:20px;top:275px;height:30px"></div>
<div class="t" style="left:35.5px;top:284.00px;font-size:13px;color:#333333;letter-spacing:-0.21px;">Not specified</div>
<svg class="ic" style="left:284px;top:285px" width="12" height="10" viewBox="0 0 12 10"><path d="M2.6 2.7 L6.7 6.8 L10.8 2.7" fill="none" stroke="#333" stroke-width="1.9"/></svg>
<div class="t" style="left:20px;top:315.64px;font-size:12px;color:#a5b0c2;">Selecting a list of numbers against which the system</div>
<div class="t" style="left:20px;top:328.74px;font-size:12px;color:#a5b0c2;">will check to verify the number</div>
<div class="cb" style="left:22px;top:360px"><svg width="13" height="13" viewBox="0 0 13 13" style="position:absolute;left:0;top:0"><path d="M2.6 6.6 L5.6 9.6 L10.8 3.6" fill="none" stroke="#707070" stroke-width="2.1"/></svg></div>
<div class="t" style="left:48.0px;top:359.25px;font-size:14px;color:#93a1b7;letter-spacing:-0.1px;">Call back</div>
<svg class="ic" style="left:113px;top:358.8px" width="14" height="14" viewBox="0 0 1792 1792"><path fill="#8d9cb4" d="M1639 1056q0 5-1 7-64 268-268 434.5t-478 166.5q-146 0-282.5-55t-243.5-157l-129 129q-19 19-45 19t-45-19-19-45v-448q0-26 19-45t45-19h448q26 0 45 19t19 45-19 45l-137 137q71 66 161 102t187 36q134 0 250-65t186-179q11-17 53-117 8-23 30-23h192q13 0 22.5 9.5t9.5 22.5zm25-800v448q0 26-19 45t-45 19h-448q-26 0-45-19t-19-45 19-45l138-138q-148-137-349-137-134 0-250 65t-186 179q-11 17-53 117-8 23-30 23h-199q-13 0-22.5-9.5t-9.5-22.5v-7q65-268 270-434.5t480-166.5q146 0 284 55.5t245 156.5l130-129q19-19 45-19t45 19 19 45z"/></svg>
<div class="t" style="left:20px;top:387.74px;font-size:12px;color:#a5b0c2;">Added to the CallBack according to the queue</div>
<div class="t" style="left:20px;top:400.84px;font-size:12px;color:#a5b0c2;">settings when the call is completed</div>
<div class="t" style="left:20px;top:441.76px;font-size:18px;color:#000;letter-spacing:0.2px;">Suitable</div>
<div class="hr" style="top:479px"></div>
<div class="quit" style="top:469px">QUIT</div>
<div class="cb" style="left:22px;top:494px"><svg width="13" height="13" viewBox="0 0 13 13" style="position:absolute;left:0;top:0"><path d="M2.6 6.6 L5.6 9.6 L10.8 3.6" fill="none" stroke="#707070" stroke-width="2.1"/></svg></div>
<div class="t" style="left:48.0px;top:493.15px;font-size:14px;color:#93a1b7;letter-spacing:-0.38px;">Success</div>
<div class="gd" style="left:107.3px;top:493.8px;right:auto;width:12.5px;height:12.5px"></div>
<div class="t" style="left:20px;top:522.04px;font-size:12px;color:#a5b0c2;">Notes this function "Success" in reports calls and</div>
<div class="t" style="left:20px;top:535.04px;font-size:12px;color:#a5b0c2;">summary.</div>
<div class="cb" style="left:22px;top:576px"></div>
<div class="t" style="left:48.0px;top:575.15px;font-size:14px;color:#93a1b7;letter-spacing:0.26px;">Priority call</div>
<div class="cb" style="left:22px;top:622px"></div>
<div class="t" style="left:48.0px;top:621.15px;font-size:14px;color:#93a1b7;letter-spacing:0.33px;">Remove from the list</div>
<div class="t" style="left:20px;top:666.76px;font-size:18px;color:#000;letter-spacing:0.49px;">Not suitable</div>
<div class="hr" style="top:704px"></div>
<div class="quit" style="top:694px">QUIT</div>
<div class="cb" style="left:22px;top:719px"><svg width="13" height="13" viewBox="0 0 13 13" style="position:absolute;left:0;top:0"><path d="M2.6 6.6 L5.6 9.6 L10.8 3.6" fill="none" stroke="#707070" stroke-width="2.1"/></svg></div>
<div class="t" style="left:48.0px;top:718.15px;font-size:14px;color:#93a1b7;letter-spacing:-0.38px;">Success</div>
<div class="gd" style="left:107.3px;top:718.8px;right:auto;width:12.5px;height:12.5px"></div>
<div class="t" style="left:20px;top:747.04px;font-size:12px;color:#a5b0c2;">Notes this function "Success" in reports calls and</div>
<div class="t" style="left:20px;top:760.04px;font-size:12px;color:#a5b0c2;">summary.</div>
<div class="cb" style="left:22px;top:801px"></div>
<div class="t" style="left:48.0px;top:800.15px;font-size:14px;color:#93a1b7;letter-spacing:0.26px;">Priority call</div>
<div class="cb" style="left:22px;top:847px"></div>
<div class="t" style="left:48.0px;top:846.15px;font-size:14px;color:#93a1b7;letter-spacing:0.32px;">Add to the list</div>
<div class="redbox" style="left:4px;top:111px;width:301px;height:140px"></div>
</div>
</body></html>
